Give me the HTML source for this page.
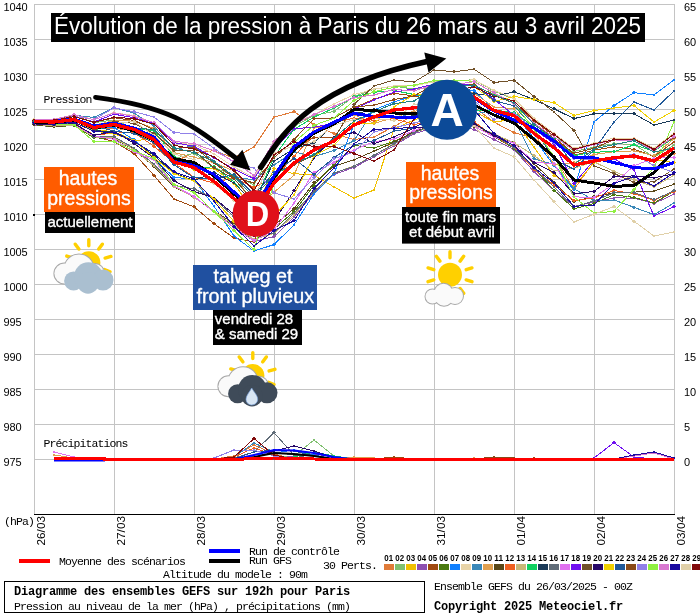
<!DOCTYPE html><html><head><meta charset="utf-8"><style>html,body{margin:0;padding:0;background:#fff;width:700px;height:614px;overflow:hidden}svg{display:block}</style></head><body>
<svg width="700" height="614" viewBox="0 0 700 614" style="will-change:transform">
<rect width="700" height="614" fill="#fff"/>
<path d="M34.5 4V514 M114.5 4V514 M194.5 4V514 M274.5 4V514 M354.5 4V514 M434.5 4V514 M514.5 4V514 M594.5 4V514 M674.5 4V514 M34 4.5H674 M34 39.5H674 M34 74.5H674 M34 109.5H674 M34 144.5H674 M34 179.5H674 M34 214.5H674 M34 249.5H674 M34 284.5H674 M34 319.5H674 M34 354.5H674 M34 389.5H674 M34 424.5H674 M34 459.5H674" stroke="#c4c4c4" stroke-width="1" fill="none"/>
<path d="M34 514.5H675" stroke="#000" stroke-width="1"/>
<g font-family="Liberation Sans, sans-serif" font-size="11" letter-spacing="-0.1" fill="#000"><text x="3.4" y="11">1040</text><text x="684" y="11">65</text><text x="3.4" y="46">1035</text><text x="684" y="46">60</text><text x="3.4" y="81">1030</text><text x="684" y="81">55</text><text x="3.4" y="116">1025</text><text x="684" y="116">50</text><text x="3.4" y="151">1020</text><text x="684" y="151">45</text><text x="3.4" y="186">1015</text><text x="684" y="186">40</text><text x="3.4" y="221">1010</text><text x="684" y="221">35</text><text x="3.4" y="256">1005</text><text x="684" y="256">30</text><text x="3.4" y="291">1000</text><text x="684" y="291">25</text><text x="3.4" y="326">995</text><text x="684" y="326">20</text><text x="3.4" y="361">990</text><text x="684" y="361">15</text><text x="3.4" y="396">985</text><text x="684" y="396">10</text><text x="3.4" y="431">980</text><text x="684" y="431">5</text><text x="3.4" y="466">975</text><text x="684" y="466">0</text></g>
<g font-family="Liberation Mono, monospace" font-size="11.5" letter-spacing="-0.9" fill="#000"><text x="43.4" y="103">Pression</text><text x="43.4" y="447">Précipitations</text><text x="4" y="525">(hPa)</text></g>
<g shape-rendering="crispEdges"><polyline points="34,122.9 54,123.3 74,120.8 94,129.0 114,128.1 134,130.9 154,143.4 174,162.1 194,152.4 214,150.8 234,158.0 254,146.9 274,117.0 294,111.8 314,124.5 334,133.7 354,139.5 374,136.9 394,126.6 414,115.0 434,110.2 454,112.0 474,107.1 494,122.1 514,132.8 534,137.9 554,155.9 574,189.4 594,161.6 614,157.6 634,157.7 654,159.4 674,153.3" stroke="#e07b39" stroke-width="1" fill="none"/><path d="M34 121.1l1.8 1.8l-1.8 1.8l-1.8 -1.8z M54 121.5l1.8 1.8l-1.8 1.8l-1.8 -1.8z M74 119.0l1.8 1.8l-1.8 1.8l-1.8 -1.8z M94 127.2l1.8 1.8l-1.8 1.8l-1.8 -1.8z M114 126.3l1.8 1.8l-1.8 1.8l-1.8 -1.8z M134 129.1l1.8 1.8l-1.8 1.8l-1.8 -1.8z M154 141.6l1.8 1.8l-1.8 1.8l-1.8 -1.8z M174 160.3l1.8 1.8l-1.8 1.8l-1.8 -1.8z M194 150.6l1.8 1.8l-1.8 1.8l-1.8 -1.8z M214 149.0l1.8 1.8l-1.8 1.8l-1.8 -1.8z M234 156.2l1.8 1.8l-1.8 1.8l-1.8 -1.8z M254 145.1l1.8 1.8l-1.8 1.8l-1.8 -1.8z M274 115.2l1.8 1.8l-1.8 1.8l-1.8 -1.8z M294 110.0l1.8 1.8l-1.8 1.8l-1.8 -1.8z M314 122.7l1.8 1.8l-1.8 1.8l-1.8 -1.8z M334 131.9l1.8 1.8l-1.8 1.8l-1.8 -1.8z M354 137.7l1.8 1.8l-1.8 1.8l-1.8 -1.8z M374 135.1l1.8 1.8l-1.8 1.8l-1.8 -1.8z M394 124.8l1.8 1.8l-1.8 1.8l-1.8 -1.8z M414 113.2l1.8 1.8l-1.8 1.8l-1.8 -1.8z M434 108.4l1.8 1.8l-1.8 1.8l-1.8 -1.8z M454 110.2l1.8 1.8l-1.8 1.8l-1.8 -1.8z M474 105.3l1.8 1.8l-1.8 1.8l-1.8 -1.8z M494 120.3l1.8 1.8l-1.8 1.8l-1.8 -1.8z M514 131.0l1.8 1.8l-1.8 1.8l-1.8 -1.8z M534 136.1l1.8 1.8l-1.8 1.8l-1.8 -1.8z M554 154.1l1.8 1.8l-1.8 1.8l-1.8 -1.8z M574 187.6l1.8 1.8l-1.8 1.8l-1.8 -1.8z M594 159.8l1.8 1.8l-1.8 1.8l-1.8 -1.8z M614 155.8l1.8 1.8l-1.8 1.8l-1.8 -1.8z M634 155.9l1.8 1.8l-1.8 1.8l-1.8 -1.8z M654 157.6l1.8 1.8l-1.8 1.8l-1.8 -1.8z M674 151.5l1.8 1.8l-1.8 1.8l-1.8 -1.8z" fill="#e07b39"/><polyline points="34,120.4 54,120.1 74,116.1 94,122.7 114,119.9 134,128.6 154,137.9 174,158.5 194,153.3 214,167.6 234,175.3 254,184.9 274,147.0 294,126.3 314,115.5 334,111.3 354,96.4 374,89.4 394,86.0 414,89.2 434,87.4 454,81.4 474,79.6 494,91.2 514,98.9 534,118.6 554,134.3 574,151.4 594,147.3 614,143.6 634,144.5 654,157.2 674,145.1" stroke="#80c070" stroke-width="1" fill="none"/><path d="M34 118.6l1.8 1.8l-1.8 1.8l-1.8 -1.8z M54 118.3l1.8 1.8l-1.8 1.8l-1.8 -1.8z M74 114.3l1.8 1.8l-1.8 1.8l-1.8 -1.8z M94 120.9l1.8 1.8l-1.8 1.8l-1.8 -1.8z M114 118.1l1.8 1.8l-1.8 1.8l-1.8 -1.8z M134 126.8l1.8 1.8l-1.8 1.8l-1.8 -1.8z M154 136.1l1.8 1.8l-1.8 1.8l-1.8 -1.8z M174 156.7l1.8 1.8l-1.8 1.8l-1.8 -1.8z M194 151.5l1.8 1.8l-1.8 1.8l-1.8 -1.8z M214 165.8l1.8 1.8l-1.8 1.8l-1.8 -1.8z M234 173.5l1.8 1.8l-1.8 1.8l-1.8 -1.8z M254 183.1l1.8 1.8l-1.8 1.8l-1.8 -1.8z M274 145.2l1.8 1.8l-1.8 1.8l-1.8 -1.8z M294 124.5l1.8 1.8l-1.8 1.8l-1.8 -1.8z M314 113.7l1.8 1.8l-1.8 1.8l-1.8 -1.8z M334 109.5l1.8 1.8l-1.8 1.8l-1.8 -1.8z M354 94.6l1.8 1.8l-1.8 1.8l-1.8 -1.8z M374 87.6l1.8 1.8l-1.8 1.8l-1.8 -1.8z M394 84.2l1.8 1.8l-1.8 1.8l-1.8 -1.8z M414 87.4l1.8 1.8l-1.8 1.8l-1.8 -1.8z M434 85.6l1.8 1.8l-1.8 1.8l-1.8 -1.8z M454 79.6l1.8 1.8l-1.8 1.8l-1.8 -1.8z M474 77.8l1.8 1.8l-1.8 1.8l-1.8 -1.8z M494 89.4l1.8 1.8l-1.8 1.8l-1.8 -1.8z M514 97.1l1.8 1.8l-1.8 1.8l-1.8 -1.8z M534 116.8l1.8 1.8l-1.8 1.8l-1.8 -1.8z M554 132.5l1.8 1.8l-1.8 1.8l-1.8 -1.8z M574 149.6l1.8 1.8l-1.8 1.8l-1.8 -1.8z M594 145.5l1.8 1.8l-1.8 1.8l-1.8 -1.8z M614 141.8l1.8 1.8l-1.8 1.8l-1.8 -1.8z M634 142.7l1.8 1.8l-1.8 1.8l-1.8 -1.8z M654 155.4l1.8 1.8l-1.8 1.8l-1.8 -1.8z M674 143.3l1.8 1.8l-1.8 1.8l-1.8 -1.8z" fill="#80c070"/><polyline points="34,121.6 54,122.7 74,119.4 94,129.9 114,131.6 134,140.6 154,138.8 174,157.5 194,169.7 214,168.4 234,183.5 254,211.7 274,168.4 294,173.7 314,175.0 334,187.0 354,198.0 374,190.0 394,129.0 414,120.0 434,113.1 454,104.1 474,111.3 494,122.1 514,119.2 534,147.1 554,175.6 574,186.1 594,162.8 614,157.8 634,155.4 654,159.6 674,162.6" stroke="#f0c000" stroke-width="1" fill="none"/><path d="M34 119.8l1.8 1.8l-1.8 1.8l-1.8 -1.8z M54 120.9l1.8 1.8l-1.8 1.8l-1.8 -1.8z M74 117.6l1.8 1.8l-1.8 1.8l-1.8 -1.8z M94 128.1l1.8 1.8l-1.8 1.8l-1.8 -1.8z M114 129.8l1.8 1.8l-1.8 1.8l-1.8 -1.8z M134 138.8l1.8 1.8l-1.8 1.8l-1.8 -1.8z M154 137.0l1.8 1.8l-1.8 1.8l-1.8 -1.8z M174 155.7l1.8 1.8l-1.8 1.8l-1.8 -1.8z M194 167.9l1.8 1.8l-1.8 1.8l-1.8 -1.8z M214 166.6l1.8 1.8l-1.8 1.8l-1.8 -1.8z M234 181.7l1.8 1.8l-1.8 1.8l-1.8 -1.8z M254 209.9l1.8 1.8l-1.8 1.8l-1.8 -1.8z M274 166.6l1.8 1.8l-1.8 1.8l-1.8 -1.8z M294 171.9l1.8 1.8l-1.8 1.8l-1.8 -1.8z M314 173.2l1.8 1.8l-1.8 1.8l-1.8 -1.8z M334 185.2l1.8 1.8l-1.8 1.8l-1.8 -1.8z M354 196.2l1.8 1.8l-1.8 1.8l-1.8 -1.8z M374 188.2l1.8 1.8l-1.8 1.8l-1.8 -1.8z M394 127.2l1.8 1.8l-1.8 1.8l-1.8 -1.8z M414 118.2l1.8 1.8l-1.8 1.8l-1.8 -1.8z M434 111.3l1.8 1.8l-1.8 1.8l-1.8 -1.8z M454 102.3l1.8 1.8l-1.8 1.8l-1.8 -1.8z M474 109.5l1.8 1.8l-1.8 1.8l-1.8 -1.8z M494 120.3l1.8 1.8l-1.8 1.8l-1.8 -1.8z M514 117.4l1.8 1.8l-1.8 1.8l-1.8 -1.8z M534 145.3l1.8 1.8l-1.8 1.8l-1.8 -1.8z M554 173.8l1.8 1.8l-1.8 1.8l-1.8 -1.8z M574 184.3l1.8 1.8l-1.8 1.8l-1.8 -1.8z M594 161.0l1.8 1.8l-1.8 1.8l-1.8 -1.8z M614 156.0l1.8 1.8l-1.8 1.8l-1.8 -1.8z M634 153.6l1.8 1.8l-1.8 1.8l-1.8 -1.8z M654 157.8l1.8 1.8l-1.8 1.8l-1.8 -1.8z M674 160.8l1.8 1.8l-1.8 1.8l-1.8 -1.8z" fill="#f0c000"/><polyline points="34,125.0 54,126.9 74,125.1 94,136.1 114,137.2 134,148.9 154,166.2 174,186.4 194,197.2 214,211.2 234,227.4 254,241.3 274,236.7 294,216.9 314,192.9 334,174.4 354,167.4 374,156.8 394,145.8 414,133.7 434,127.7 454,123.5 474,129.6 494,139.4 514,149.4 534,171.7 554,190.2 574,206.4 594,202.2 614,197.9 634,198.1 654,203.5 674,194.2" stroke="#8e50b0" stroke-width="1" fill="none"/><path d="M34 123.2l1.8 1.8l-1.8 1.8l-1.8 -1.8z M54 125.1l1.8 1.8l-1.8 1.8l-1.8 -1.8z M74 123.3l1.8 1.8l-1.8 1.8l-1.8 -1.8z M94 134.3l1.8 1.8l-1.8 1.8l-1.8 -1.8z M114 135.4l1.8 1.8l-1.8 1.8l-1.8 -1.8z M134 147.1l1.8 1.8l-1.8 1.8l-1.8 -1.8z M154 164.4l1.8 1.8l-1.8 1.8l-1.8 -1.8z M174 184.6l1.8 1.8l-1.8 1.8l-1.8 -1.8z M194 195.4l1.8 1.8l-1.8 1.8l-1.8 -1.8z M214 209.4l1.8 1.8l-1.8 1.8l-1.8 -1.8z M234 225.6l1.8 1.8l-1.8 1.8l-1.8 -1.8z M254 239.5l1.8 1.8l-1.8 1.8l-1.8 -1.8z M274 234.9l1.8 1.8l-1.8 1.8l-1.8 -1.8z M294 215.1l1.8 1.8l-1.8 1.8l-1.8 -1.8z M314 191.1l1.8 1.8l-1.8 1.8l-1.8 -1.8z M334 172.6l1.8 1.8l-1.8 1.8l-1.8 -1.8z M354 165.6l1.8 1.8l-1.8 1.8l-1.8 -1.8z M374 155.0l1.8 1.8l-1.8 1.8l-1.8 -1.8z M394 144.0l1.8 1.8l-1.8 1.8l-1.8 -1.8z M414 131.9l1.8 1.8l-1.8 1.8l-1.8 -1.8z M434 125.9l1.8 1.8l-1.8 1.8l-1.8 -1.8z M454 121.7l1.8 1.8l-1.8 1.8l-1.8 -1.8z M474 127.8l1.8 1.8l-1.8 1.8l-1.8 -1.8z M494 137.6l1.8 1.8l-1.8 1.8l-1.8 -1.8z M514 147.6l1.8 1.8l-1.8 1.8l-1.8 -1.8z M534 169.9l1.8 1.8l-1.8 1.8l-1.8 -1.8z M554 188.4l1.8 1.8l-1.8 1.8l-1.8 -1.8z M574 204.6l1.8 1.8l-1.8 1.8l-1.8 -1.8z M594 200.4l1.8 1.8l-1.8 1.8l-1.8 -1.8z M614 196.1l1.8 1.8l-1.8 1.8l-1.8 -1.8z M634 196.3l1.8 1.8l-1.8 1.8l-1.8 -1.8z M654 201.7l1.8 1.8l-1.8 1.8l-1.8 -1.8z M674 192.4l1.8 1.8l-1.8 1.8l-1.8 -1.8z" fill="#8e50b0"/><polyline points="34,121.5 54,122.5 74,122.7 94,136.0 114,141.7 134,153.4 154,175.5 174,199.0 194,206.8 214,223.7 234,238.0 254,242.0 274,177.4 294,149.3 314,137.3 334,137.9 354,107.7 374,99.3 394,93.3 414,96.0 434,99.7 454,83.3 474,86.1 494,94.1 514,103.6 534,120.5 554,136.1 574,155.2 594,150.2 614,146.8 634,149.4 654,156.3 674,141.9" stroke="#a04a10" stroke-width="1" fill="none"/><path d="M34 119.7l1.8 1.8l-1.8 1.8l-1.8 -1.8z M54 120.7l1.8 1.8l-1.8 1.8l-1.8 -1.8z M74 120.9l1.8 1.8l-1.8 1.8l-1.8 -1.8z M94 134.2l1.8 1.8l-1.8 1.8l-1.8 -1.8z M114 139.9l1.8 1.8l-1.8 1.8l-1.8 -1.8z M134 151.6l1.8 1.8l-1.8 1.8l-1.8 -1.8z M154 173.7l1.8 1.8l-1.8 1.8l-1.8 -1.8z M174 197.2l1.8 1.8l-1.8 1.8l-1.8 -1.8z M194 205.0l1.8 1.8l-1.8 1.8l-1.8 -1.8z M214 221.9l1.8 1.8l-1.8 1.8l-1.8 -1.8z M234 236.2l1.8 1.8l-1.8 1.8l-1.8 -1.8z M254 240.2l1.8 1.8l-1.8 1.8l-1.8 -1.8z M274 175.6l1.8 1.8l-1.8 1.8l-1.8 -1.8z M294 147.5l1.8 1.8l-1.8 1.8l-1.8 -1.8z M314 135.5l1.8 1.8l-1.8 1.8l-1.8 -1.8z M334 136.1l1.8 1.8l-1.8 1.8l-1.8 -1.8z M354 105.9l1.8 1.8l-1.8 1.8l-1.8 -1.8z M374 97.5l1.8 1.8l-1.8 1.8l-1.8 -1.8z M394 91.5l1.8 1.8l-1.8 1.8l-1.8 -1.8z M414 94.2l1.8 1.8l-1.8 1.8l-1.8 -1.8z M434 97.9l1.8 1.8l-1.8 1.8l-1.8 -1.8z M454 81.5l1.8 1.8l-1.8 1.8l-1.8 -1.8z M474 84.3l1.8 1.8l-1.8 1.8l-1.8 -1.8z M494 92.3l1.8 1.8l-1.8 1.8l-1.8 -1.8z M514 101.8l1.8 1.8l-1.8 1.8l-1.8 -1.8z M534 118.7l1.8 1.8l-1.8 1.8l-1.8 -1.8z M554 134.3l1.8 1.8l-1.8 1.8l-1.8 -1.8z M574 153.4l1.8 1.8l-1.8 1.8l-1.8 -1.8z M594 148.4l1.8 1.8l-1.8 1.8l-1.8 -1.8z M614 145.0l1.8 1.8l-1.8 1.8l-1.8 -1.8z M634 147.6l1.8 1.8l-1.8 1.8l-1.8 -1.8z M654 154.5l1.8 1.8l-1.8 1.8l-1.8 -1.8z M674 140.1l1.8 1.8l-1.8 1.8l-1.8 -1.8z" fill="#a04a10"/><polyline points="34,124.7 54,126.8 74,125.5 94,137.8 114,138.6 134,149.7 154,166.4 174,186.3 194,197.3 214,211.2 234,227.3 254,240.1 274,228.9 294,211.6 314,185.3 334,164.3 354,145.3 374,148.1 394,141.3 414,132.6 434,125.8 454,121.4 474,123.5 494,136.5 514,148.3 534,168.5 554,190.3 574,208.8 594,203.4 614,194.7 634,197.5 654,203.0 674,191.2" stroke="#4a7a10" stroke-width="1" fill="none"/><path d="M34 122.9l1.8 1.8l-1.8 1.8l-1.8 -1.8z M54 125.0l1.8 1.8l-1.8 1.8l-1.8 -1.8z M74 123.7l1.8 1.8l-1.8 1.8l-1.8 -1.8z M94 136.0l1.8 1.8l-1.8 1.8l-1.8 -1.8z M114 136.8l1.8 1.8l-1.8 1.8l-1.8 -1.8z M134 147.9l1.8 1.8l-1.8 1.8l-1.8 -1.8z M154 164.6l1.8 1.8l-1.8 1.8l-1.8 -1.8z M174 184.5l1.8 1.8l-1.8 1.8l-1.8 -1.8z M194 195.5l1.8 1.8l-1.8 1.8l-1.8 -1.8z M214 209.4l1.8 1.8l-1.8 1.8l-1.8 -1.8z M234 225.5l1.8 1.8l-1.8 1.8l-1.8 -1.8z M254 238.3l1.8 1.8l-1.8 1.8l-1.8 -1.8z M274 227.1l1.8 1.8l-1.8 1.8l-1.8 -1.8z M294 209.8l1.8 1.8l-1.8 1.8l-1.8 -1.8z M314 183.5l1.8 1.8l-1.8 1.8l-1.8 -1.8z M334 162.5l1.8 1.8l-1.8 1.8l-1.8 -1.8z M354 143.5l1.8 1.8l-1.8 1.8l-1.8 -1.8z M374 146.3l1.8 1.8l-1.8 1.8l-1.8 -1.8z M394 139.5l1.8 1.8l-1.8 1.8l-1.8 -1.8z M414 130.8l1.8 1.8l-1.8 1.8l-1.8 -1.8z M434 124.0l1.8 1.8l-1.8 1.8l-1.8 -1.8z M454 119.6l1.8 1.8l-1.8 1.8l-1.8 -1.8z M474 121.7l1.8 1.8l-1.8 1.8l-1.8 -1.8z M494 134.7l1.8 1.8l-1.8 1.8l-1.8 -1.8z M514 146.5l1.8 1.8l-1.8 1.8l-1.8 -1.8z M534 166.7l1.8 1.8l-1.8 1.8l-1.8 -1.8z M554 188.5l1.8 1.8l-1.8 1.8l-1.8 -1.8z M574 207.0l1.8 1.8l-1.8 1.8l-1.8 -1.8z M594 201.6l1.8 1.8l-1.8 1.8l-1.8 -1.8z M614 192.9l1.8 1.8l-1.8 1.8l-1.8 -1.8z M634 195.7l1.8 1.8l-1.8 1.8l-1.8 -1.8z M654 201.2l1.8 1.8l-1.8 1.8l-1.8 -1.8z M674 189.4l1.8 1.8l-1.8 1.8l-1.8 -1.8z" fill="#4a7a10"/><polyline points="34,120.9 54,121.3 74,119.6 94,126.4 114,127.5 134,139.7 154,158.7 174,177.3 194,179.4 214,206.2 234,236.0 254,251.0 274,244.6 294,224.9 314,194.0 334,173.3 354,124.7 374,110.0 394,101.9 414,95.8 434,91.4 454,92.2 474,90.4 494,110.1 514,113.4 534,138.4 554,165.6 574,190.0 594,122.0 614,105.6 634,92.6 654,95.0 674,80.0" stroke="#1080ff" stroke-width="1" fill="none"/><path d="M34 119.1l1.8 1.8l-1.8 1.8l-1.8 -1.8z M54 119.5l1.8 1.8l-1.8 1.8l-1.8 -1.8z M74 117.8l1.8 1.8l-1.8 1.8l-1.8 -1.8z M94 124.6l1.8 1.8l-1.8 1.8l-1.8 -1.8z M114 125.7l1.8 1.8l-1.8 1.8l-1.8 -1.8z M134 137.9l1.8 1.8l-1.8 1.8l-1.8 -1.8z M154 156.9l1.8 1.8l-1.8 1.8l-1.8 -1.8z M174 175.5l1.8 1.8l-1.8 1.8l-1.8 -1.8z M194 177.6l1.8 1.8l-1.8 1.8l-1.8 -1.8z M214 204.4l1.8 1.8l-1.8 1.8l-1.8 -1.8z M234 234.2l1.8 1.8l-1.8 1.8l-1.8 -1.8z M254 249.2l1.8 1.8l-1.8 1.8l-1.8 -1.8z M274 242.8l1.8 1.8l-1.8 1.8l-1.8 -1.8z M294 223.1l1.8 1.8l-1.8 1.8l-1.8 -1.8z M314 192.2l1.8 1.8l-1.8 1.8l-1.8 -1.8z M334 171.5l1.8 1.8l-1.8 1.8l-1.8 -1.8z M354 122.9l1.8 1.8l-1.8 1.8l-1.8 -1.8z M374 108.2l1.8 1.8l-1.8 1.8l-1.8 -1.8z M394 100.1l1.8 1.8l-1.8 1.8l-1.8 -1.8z M414 94.0l1.8 1.8l-1.8 1.8l-1.8 -1.8z M434 89.6l1.8 1.8l-1.8 1.8l-1.8 -1.8z M454 90.4l1.8 1.8l-1.8 1.8l-1.8 -1.8z M474 88.6l1.8 1.8l-1.8 1.8l-1.8 -1.8z M494 108.3l1.8 1.8l-1.8 1.8l-1.8 -1.8z M514 111.6l1.8 1.8l-1.8 1.8l-1.8 -1.8z M534 136.6l1.8 1.8l-1.8 1.8l-1.8 -1.8z M554 163.8l1.8 1.8l-1.8 1.8l-1.8 -1.8z M574 188.2l1.8 1.8l-1.8 1.8l-1.8 -1.8z M594 120.2l1.8 1.8l-1.8 1.8l-1.8 -1.8z M614 103.8l1.8 1.8l-1.8 1.8l-1.8 -1.8z M634 90.8l1.8 1.8l-1.8 1.8l-1.8 -1.8z M654 93.2l1.8 1.8l-1.8 1.8l-1.8 -1.8z M674 78.2l1.8 1.8l-1.8 1.8l-1.8 -1.8z" fill="#1080ff"/><polyline points="34,119.7 54,119.3 74,114.5 94,119.7 114,112.8 134,115.6 154,122.7 174,142.6 194,144.7 214,153.9 234,167.1 254,177.6 274,142.5 294,123.6 314,114.7 334,104.0 354,94.6 374,89.2 394,85.9 414,85.7 434,81.8 454,81.0 474,79.8 494,90.4 514,98.3 534,118.5 554,133.3 574,148.3 594,143.2 614,138.1 634,138.1 654,148.1 674,133.1" stroke="#e8d4a8" stroke-width="1" fill="none"/><path d="M34 117.9l1.8 1.8l-1.8 1.8l-1.8 -1.8z M54 117.5l1.8 1.8l-1.8 1.8l-1.8 -1.8z M74 112.7l1.8 1.8l-1.8 1.8l-1.8 -1.8z M94 117.9l1.8 1.8l-1.8 1.8l-1.8 -1.8z M114 111.0l1.8 1.8l-1.8 1.8l-1.8 -1.8z M134 113.8l1.8 1.8l-1.8 1.8l-1.8 -1.8z M154 120.9l1.8 1.8l-1.8 1.8l-1.8 -1.8z M174 140.8l1.8 1.8l-1.8 1.8l-1.8 -1.8z M194 142.9l1.8 1.8l-1.8 1.8l-1.8 -1.8z M214 152.1l1.8 1.8l-1.8 1.8l-1.8 -1.8z M234 165.3l1.8 1.8l-1.8 1.8l-1.8 -1.8z M254 175.8l1.8 1.8l-1.8 1.8l-1.8 -1.8z M274 140.7l1.8 1.8l-1.8 1.8l-1.8 -1.8z M294 121.8l1.8 1.8l-1.8 1.8l-1.8 -1.8z M314 112.9l1.8 1.8l-1.8 1.8l-1.8 -1.8z M334 102.2l1.8 1.8l-1.8 1.8l-1.8 -1.8z M354 92.8l1.8 1.8l-1.8 1.8l-1.8 -1.8z M374 87.4l1.8 1.8l-1.8 1.8l-1.8 -1.8z M394 84.1l1.8 1.8l-1.8 1.8l-1.8 -1.8z M414 83.9l1.8 1.8l-1.8 1.8l-1.8 -1.8z M434 80.0l1.8 1.8l-1.8 1.8l-1.8 -1.8z M454 79.2l1.8 1.8l-1.8 1.8l-1.8 -1.8z M474 78.0l1.8 1.8l-1.8 1.8l-1.8 -1.8z M494 88.6l1.8 1.8l-1.8 1.8l-1.8 -1.8z M514 96.5l1.8 1.8l-1.8 1.8l-1.8 -1.8z M534 116.7l1.8 1.8l-1.8 1.8l-1.8 -1.8z M554 131.5l1.8 1.8l-1.8 1.8l-1.8 -1.8z M574 146.5l1.8 1.8l-1.8 1.8l-1.8 -1.8z M594 141.4l1.8 1.8l-1.8 1.8l-1.8 -1.8z M614 136.3l1.8 1.8l-1.8 1.8l-1.8 -1.8z M634 136.3l1.8 1.8l-1.8 1.8l-1.8 -1.8z M654 146.3l1.8 1.8l-1.8 1.8l-1.8 -1.8z M674 131.3l1.8 1.8l-1.8 1.8l-1.8 -1.8z" fill="#e8d4a8"/><polyline points="34,121.0 54,120.4 74,115.2 94,117.4 114,107.8 134,113.0 154,126.0 174,149.5 194,145.6 214,161.2 234,176.8 254,180.0 274,164.9 294,151.8 314,156.6 334,150.5 354,140.8 374,109.4 394,112.2 414,118.5 434,112.0 454,101.1 474,114.3 494,110.0 514,119.0 534,158.8 554,164.6 574,188.7 594,200.5 614,200.0 634,207.3 654,214.7 674,203.0" stroke="#3a88b8" stroke-width="1" fill="none"/><path d="M34 119.2l1.8 1.8l-1.8 1.8l-1.8 -1.8z M54 118.6l1.8 1.8l-1.8 1.8l-1.8 -1.8z M74 113.4l1.8 1.8l-1.8 1.8l-1.8 -1.8z M94 115.6l1.8 1.8l-1.8 1.8l-1.8 -1.8z M114 106.0l1.8 1.8l-1.8 1.8l-1.8 -1.8z M134 111.2l1.8 1.8l-1.8 1.8l-1.8 -1.8z M154 124.2l1.8 1.8l-1.8 1.8l-1.8 -1.8z M174 147.7l1.8 1.8l-1.8 1.8l-1.8 -1.8z M194 143.8l1.8 1.8l-1.8 1.8l-1.8 -1.8z M214 159.4l1.8 1.8l-1.8 1.8l-1.8 -1.8z M234 175.0l1.8 1.8l-1.8 1.8l-1.8 -1.8z M254 178.2l1.8 1.8l-1.8 1.8l-1.8 -1.8z M274 163.1l1.8 1.8l-1.8 1.8l-1.8 -1.8z M294 150.0l1.8 1.8l-1.8 1.8l-1.8 -1.8z M314 154.8l1.8 1.8l-1.8 1.8l-1.8 -1.8z M334 148.7l1.8 1.8l-1.8 1.8l-1.8 -1.8z M354 139.0l1.8 1.8l-1.8 1.8l-1.8 -1.8z M374 107.6l1.8 1.8l-1.8 1.8l-1.8 -1.8z M394 110.4l1.8 1.8l-1.8 1.8l-1.8 -1.8z M414 116.7l1.8 1.8l-1.8 1.8l-1.8 -1.8z M434 110.2l1.8 1.8l-1.8 1.8l-1.8 -1.8z M454 99.3l1.8 1.8l-1.8 1.8l-1.8 -1.8z M474 112.5l1.8 1.8l-1.8 1.8l-1.8 -1.8z M494 108.2l1.8 1.8l-1.8 1.8l-1.8 -1.8z M514 117.2l1.8 1.8l-1.8 1.8l-1.8 -1.8z M534 157.0l1.8 1.8l-1.8 1.8l-1.8 -1.8z M554 162.8l1.8 1.8l-1.8 1.8l-1.8 -1.8z M574 186.9l1.8 1.8l-1.8 1.8l-1.8 -1.8z M594 198.7l1.8 1.8l-1.8 1.8l-1.8 -1.8z M614 198.2l1.8 1.8l-1.8 1.8l-1.8 -1.8z M634 205.5l1.8 1.8l-1.8 1.8l-1.8 -1.8z M654 212.9l1.8 1.8l-1.8 1.8l-1.8 -1.8z M674 201.2l1.8 1.8l-1.8 1.8l-1.8 -1.8z" fill="#3a88b8"/><polyline points="34,120.8 54,120.9 74,118.1 94,125.3 114,120.6 134,121.1 154,128.4 174,152.6 194,157.1 214,162.7 234,170.9 254,209.9 274,192.2 294,175.2 314,128.2 334,124.4 354,114.7 374,123.3 394,117.8 414,111.1 434,110.2 454,90.0 474,93.2 494,107.1 514,108.6 534,132.7 554,164.6 574,162.7 594,154.5 614,151.7 634,150.9 654,155.7 674,138.7" stroke="#e0a050" stroke-width="1" fill="none"/><path d="M34 119.0l1.8 1.8l-1.8 1.8l-1.8 -1.8z M54 119.1l1.8 1.8l-1.8 1.8l-1.8 -1.8z M74 116.3l1.8 1.8l-1.8 1.8l-1.8 -1.8z M94 123.5l1.8 1.8l-1.8 1.8l-1.8 -1.8z M114 118.8l1.8 1.8l-1.8 1.8l-1.8 -1.8z M134 119.3l1.8 1.8l-1.8 1.8l-1.8 -1.8z M154 126.6l1.8 1.8l-1.8 1.8l-1.8 -1.8z M174 150.8l1.8 1.8l-1.8 1.8l-1.8 -1.8z M194 155.3l1.8 1.8l-1.8 1.8l-1.8 -1.8z M214 160.9l1.8 1.8l-1.8 1.8l-1.8 -1.8z M234 169.1l1.8 1.8l-1.8 1.8l-1.8 -1.8z M254 208.1l1.8 1.8l-1.8 1.8l-1.8 -1.8z M274 190.4l1.8 1.8l-1.8 1.8l-1.8 -1.8z M294 173.4l1.8 1.8l-1.8 1.8l-1.8 -1.8z M314 126.4l1.8 1.8l-1.8 1.8l-1.8 -1.8z M334 122.6l1.8 1.8l-1.8 1.8l-1.8 -1.8z M354 112.9l1.8 1.8l-1.8 1.8l-1.8 -1.8z M374 121.5l1.8 1.8l-1.8 1.8l-1.8 -1.8z M394 116.0l1.8 1.8l-1.8 1.8l-1.8 -1.8z M414 109.3l1.8 1.8l-1.8 1.8l-1.8 -1.8z M434 108.4l1.8 1.8l-1.8 1.8l-1.8 -1.8z M454 88.2l1.8 1.8l-1.8 1.8l-1.8 -1.8z M474 91.4l1.8 1.8l-1.8 1.8l-1.8 -1.8z M494 105.3l1.8 1.8l-1.8 1.8l-1.8 -1.8z M514 106.8l1.8 1.8l-1.8 1.8l-1.8 -1.8z M534 130.9l1.8 1.8l-1.8 1.8l-1.8 -1.8z M554 162.8l1.8 1.8l-1.8 1.8l-1.8 -1.8z M574 160.9l1.8 1.8l-1.8 1.8l-1.8 -1.8z M594 152.7l1.8 1.8l-1.8 1.8l-1.8 -1.8z M614 149.9l1.8 1.8l-1.8 1.8l-1.8 -1.8z M634 149.1l1.8 1.8l-1.8 1.8l-1.8 -1.8z M654 153.9l1.8 1.8l-1.8 1.8l-1.8 -1.8z M674 136.9l1.8 1.8l-1.8 1.8l-1.8 -1.8z" fill="#e0a050"/><polyline points="34,124.4 54,126.7 74,125.2 94,136.3 114,138.2 134,149.3 154,166.6 174,186.7 194,197.0 214,210.9 234,223.6 254,235.5 274,225.6 294,208.7 314,182.8 334,166.1 354,159.9 374,151.1 394,142.3 414,131.5 434,125.3 454,121.9 474,126.9 494,135.3 514,142.4 534,163.8 554,182.4 574,201.4 594,196.7 614,192.9 634,192.1 654,191.0 674,184.2" stroke="#5a4818" stroke-width="1" fill="none"/><path d="M34 122.6l1.8 1.8l-1.8 1.8l-1.8 -1.8z M54 124.9l1.8 1.8l-1.8 1.8l-1.8 -1.8z M74 123.4l1.8 1.8l-1.8 1.8l-1.8 -1.8z M94 134.5l1.8 1.8l-1.8 1.8l-1.8 -1.8z M114 136.4l1.8 1.8l-1.8 1.8l-1.8 -1.8z M134 147.5l1.8 1.8l-1.8 1.8l-1.8 -1.8z M154 164.8l1.8 1.8l-1.8 1.8l-1.8 -1.8z M174 184.9l1.8 1.8l-1.8 1.8l-1.8 -1.8z M194 195.2l1.8 1.8l-1.8 1.8l-1.8 -1.8z M214 209.1l1.8 1.8l-1.8 1.8l-1.8 -1.8z M234 221.8l1.8 1.8l-1.8 1.8l-1.8 -1.8z M254 233.7l1.8 1.8l-1.8 1.8l-1.8 -1.8z M274 223.8l1.8 1.8l-1.8 1.8l-1.8 -1.8z M294 206.9l1.8 1.8l-1.8 1.8l-1.8 -1.8z M314 181.0l1.8 1.8l-1.8 1.8l-1.8 -1.8z M334 164.3l1.8 1.8l-1.8 1.8l-1.8 -1.8z M354 158.1l1.8 1.8l-1.8 1.8l-1.8 -1.8z M374 149.3l1.8 1.8l-1.8 1.8l-1.8 -1.8z M394 140.5l1.8 1.8l-1.8 1.8l-1.8 -1.8z M414 129.7l1.8 1.8l-1.8 1.8l-1.8 -1.8z M434 123.5l1.8 1.8l-1.8 1.8l-1.8 -1.8z M454 120.1l1.8 1.8l-1.8 1.8l-1.8 -1.8z M474 125.1l1.8 1.8l-1.8 1.8l-1.8 -1.8z M494 133.5l1.8 1.8l-1.8 1.8l-1.8 -1.8z M514 140.6l1.8 1.8l-1.8 1.8l-1.8 -1.8z M534 162.0l1.8 1.8l-1.8 1.8l-1.8 -1.8z M554 180.6l1.8 1.8l-1.8 1.8l-1.8 -1.8z M574 199.6l1.8 1.8l-1.8 1.8l-1.8 -1.8z M594 194.9l1.8 1.8l-1.8 1.8l-1.8 -1.8z M614 191.1l1.8 1.8l-1.8 1.8l-1.8 -1.8z M634 190.3l1.8 1.8l-1.8 1.8l-1.8 -1.8z M654 189.2l1.8 1.8l-1.8 1.8l-1.8 -1.8z M674 182.4l1.8 1.8l-1.8 1.8l-1.8 -1.8z" fill="#5a4818"/><polyline points="34,123.2 54,125.0 74,123.5 94,135.0 114,133.2 134,132.5 154,146.3 174,162.9 194,177.3 214,183.3 234,177.4 254,187.3 274,178.3 294,156.6 314,133.9 334,122.7 354,118.1 374,120.4 394,118.8 414,124.3 434,122.1 454,116.4 474,121.7 494,136.5 514,147.0 534,169.5 554,184.9 574,200.7 594,197.9 614,190.6 634,193.6 654,200.3 674,191.4" stroke="#f06020" stroke-width="1" fill="none"/><path d="M34 121.4l1.8 1.8l-1.8 1.8l-1.8 -1.8z M54 123.2l1.8 1.8l-1.8 1.8l-1.8 -1.8z M74 121.7l1.8 1.8l-1.8 1.8l-1.8 -1.8z M94 133.2l1.8 1.8l-1.8 1.8l-1.8 -1.8z M114 131.4l1.8 1.8l-1.8 1.8l-1.8 -1.8z M134 130.7l1.8 1.8l-1.8 1.8l-1.8 -1.8z M154 144.5l1.8 1.8l-1.8 1.8l-1.8 -1.8z M174 161.1l1.8 1.8l-1.8 1.8l-1.8 -1.8z M194 175.5l1.8 1.8l-1.8 1.8l-1.8 -1.8z M214 181.5l1.8 1.8l-1.8 1.8l-1.8 -1.8z M234 175.6l1.8 1.8l-1.8 1.8l-1.8 -1.8z M254 185.5l1.8 1.8l-1.8 1.8l-1.8 -1.8z M274 176.5l1.8 1.8l-1.8 1.8l-1.8 -1.8z M294 154.8l1.8 1.8l-1.8 1.8l-1.8 -1.8z M314 132.1l1.8 1.8l-1.8 1.8l-1.8 -1.8z M334 120.9l1.8 1.8l-1.8 1.8l-1.8 -1.8z M354 116.3l1.8 1.8l-1.8 1.8l-1.8 -1.8z M374 118.6l1.8 1.8l-1.8 1.8l-1.8 -1.8z M394 117.0l1.8 1.8l-1.8 1.8l-1.8 -1.8z M414 122.5l1.8 1.8l-1.8 1.8l-1.8 -1.8z M434 120.3l1.8 1.8l-1.8 1.8l-1.8 -1.8z M454 114.6l1.8 1.8l-1.8 1.8l-1.8 -1.8z M474 119.9l1.8 1.8l-1.8 1.8l-1.8 -1.8z M494 134.7l1.8 1.8l-1.8 1.8l-1.8 -1.8z M514 145.2l1.8 1.8l-1.8 1.8l-1.8 -1.8z M534 167.7l1.8 1.8l-1.8 1.8l-1.8 -1.8z M554 183.1l1.8 1.8l-1.8 1.8l-1.8 -1.8z M574 198.9l1.8 1.8l-1.8 1.8l-1.8 -1.8z M594 196.1l1.8 1.8l-1.8 1.8l-1.8 -1.8z M614 188.8l1.8 1.8l-1.8 1.8l-1.8 -1.8z M634 191.8l1.8 1.8l-1.8 1.8l-1.8 -1.8z M654 198.5l1.8 1.8l-1.8 1.8l-1.8 -1.8z M674 189.6l1.8 1.8l-1.8 1.8l-1.8 -1.8z" fill="#f06020"/><polyline points="34,124.1 54,126.1 74,125.1 94,136.9 114,137.8 134,149.6 154,166.0 174,186.3 194,197.3 214,211.0 234,225.6 254,239.5 274,233.4 294,215.0 314,192.0 334,173.0 354,166.1 374,155.4 394,144.4 414,132.6 434,126.3 454,122.4 474,125.4 494,133.9 514,142.8 534,155.4 554,170.9 574,168.2 594,161.9 614,171.4 634,179.8 654,186.8 674,175.2" stroke="#c8b878" stroke-width="1" fill="none"/><path d="M34 122.3l1.8 1.8l-1.8 1.8l-1.8 -1.8z M54 124.3l1.8 1.8l-1.8 1.8l-1.8 -1.8z M74 123.3l1.8 1.8l-1.8 1.8l-1.8 -1.8z M94 135.1l1.8 1.8l-1.8 1.8l-1.8 -1.8z M114 136.0l1.8 1.8l-1.8 1.8l-1.8 -1.8z M134 147.8l1.8 1.8l-1.8 1.8l-1.8 -1.8z M154 164.2l1.8 1.8l-1.8 1.8l-1.8 -1.8z M174 184.5l1.8 1.8l-1.8 1.8l-1.8 -1.8z M194 195.5l1.8 1.8l-1.8 1.8l-1.8 -1.8z M214 209.2l1.8 1.8l-1.8 1.8l-1.8 -1.8z M234 223.8l1.8 1.8l-1.8 1.8l-1.8 -1.8z M254 237.7l1.8 1.8l-1.8 1.8l-1.8 -1.8z M274 231.6l1.8 1.8l-1.8 1.8l-1.8 -1.8z M294 213.2l1.8 1.8l-1.8 1.8l-1.8 -1.8z M314 190.2l1.8 1.8l-1.8 1.8l-1.8 -1.8z M334 171.2l1.8 1.8l-1.8 1.8l-1.8 -1.8z M354 164.3l1.8 1.8l-1.8 1.8l-1.8 -1.8z M374 153.6l1.8 1.8l-1.8 1.8l-1.8 -1.8z M394 142.6l1.8 1.8l-1.8 1.8l-1.8 -1.8z M414 130.8l1.8 1.8l-1.8 1.8l-1.8 -1.8z M434 124.5l1.8 1.8l-1.8 1.8l-1.8 -1.8z M454 120.6l1.8 1.8l-1.8 1.8l-1.8 -1.8z M474 123.6l1.8 1.8l-1.8 1.8l-1.8 -1.8z M494 132.1l1.8 1.8l-1.8 1.8l-1.8 -1.8z M514 141.0l1.8 1.8l-1.8 1.8l-1.8 -1.8z M534 153.6l1.8 1.8l-1.8 1.8l-1.8 -1.8z M554 169.1l1.8 1.8l-1.8 1.8l-1.8 -1.8z M574 166.4l1.8 1.8l-1.8 1.8l-1.8 -1.8z M594 160.1l1.8 1.8l-1.8 1.8l-1.8 -1.8z M614 169.6l1.8 1.8l-1.8 1.8l-1.8 -1.8z M634 178.0l1.8 1.8l-1.8 1.8l-1.8 -1.8z M654 185.0l1.8 1.8l-1.8 1.8l-1.8 -1.8z M674 173.4l1.8 1.8l-1.8 1.8l-1.8 -1.8z" fill="#c8b878"/><polyline points="34,121.4 54,121.8 74,119.6 94,130.0 114,124.8 134,128.8 154,130.6 174,156.4 194,168.8 214,166.6 234,182.0 254,204.4 274,156.7 294,129.4 314,117.1 334,108.1 354,96.8 374,92.3 394,90.5 414,94.5 434,97.2 454,102.6 474,110.1 494,110.0 514,112.5 534,126.9 554,138.8 574,155.6 594,152.2 614,151.6 634,144.8 654,151.2 674,137.6" stroke="#10d060" stroke-width="1" fill="none"/><path d="M34 119.6l1.8 1.8l-1.8 1.8l-1.8 -1.8z M54 120.0l1.8 1.8l-1.8 1.8l-1.8 -1.8z M74 117.8l1.8 1.8l-1.8 1.8l-1.8 -1.8z M94 128.2l1.8 1.8l-1.8 1.8l-1.8 -1.8z M114 123.0l1.8 1.8l-1.8 1.8l-1.8 -1.8z M134 127.0l1.8 1.8l-1.8 1.8l-1.8 -1.8z M154 128.8l1.8 1.8l-1.8 1.8l-1.8 -1.8z M174 154.6l1.8 1.8l-1.8 1.8l-1.8 -1.8z M194 167.0l1.8 1.8l-1.8 1.8l-1.8 -1.8z M214 164.8l1.8 1.8l-1.8 1.8l-1.8 -1.8z M234 180.2l1.8 1.8l-1.8 1.8l-1.8 -1.8z M254 202.6l1.8 1.8l-1.8 1.8l-1.8 -1.8z M274 154.9l1.8 1.8l-1.8 1.8l-1.8 -1.8z M294 127.6l1.8 1.8l-1.8 1.8l-1.8 -1.8z M314 115.3l1.8 1.8l-1.8 1.8l-1.8 -1.8z M334 106.3l1.8 1.8l-1.8 1.8l-1.8 -1.8z M354 95.0l1.8 1.8l-1.8 1.8l-1.8 -1.8z M374 90.5l1.8 1.8l-1.8 1.8l-1.8 -1.8z M394 88.7l1.8 1.8l-1.8 1.8l-1.8 -1.8z M414 92.7l1.8 1.8l-1.8 1.8l-1.8 -1.8z M434 95.4l1.8 1.8l-1.8 1.8l-1.8 -1.8z M454 100.8l1.8 1.8l-1.8 1.8l-1.8 -1.8z M474 108.3l1.8 1.8l-1.8 1.8l-1.8 -1.8z M494 108.2l1.8 1.8l-1.8 1.8l-1.8 -1.8z M514 110.7l1.8 1.8l-1.8 1.8l-1.8 -1.8z M534 125.1l1.8 1.8l-1.8 1.8l-1.8 -1.8z M554 137.0l1.8 1.8l-1.8 1.8l-1.8 -1.8z M574 153.8l1.8 1.8l-1.8 1.8l-1.8 -1.8z M594 150.4l1.8 1.8l-1.8 1.8l-1.8 -1.8z M614 149.8l1.8 1.8l-1.8 1.8l-1.8 -1.8z M634 143.0l1.8 1.8l-1.8 1.8l-1.8 -1.8z M654 149.4l1.8 1.8l-1.8 1.8l-1.8 -1.8z M674 135.8l1.8 1.8l-1.8 1.8l-1.8 -1.8z" fill="#10d060"/><polyline points="34,123.4 54,124.5 74,122.5 94,130.8 114,131.4 134,141.4 154,155.5 174,173.1 194,180.5 214,172.6 234,183.0 254,203.0 274,161.1 294,148.9 314,142.7 334,124.7 354,114.0 374,109.4 394,111.5 414,115.6 434,112.2 454,99.1 474,93.4 494,96.4 514,91.8 534,99.5 554,108.8 574,118.6 594,113.8 614,113.8 634,113.8 654,125.0 674,120.0" stroke="#1a3a58" stroke-width="1" fill="none"/><path d="M34 121.6l1.8 1.8l-1.8 1.8l-1.8 -1.8z M54 122.7l1.8 1.8l-1.8 1.8l-1.8 -1.8z M74 120.7l1.8 1.8l-1.8 1.8l-1.8 -1.8z M94 129.0l1.8 1.8l-1.8 1.8l-1.8 -1.8z M114 129.6l1.8 1.8l-1.8 1.8l-1.8 -1.8z M134 139.6l1.8 1.8l-1.8 1.8l-1.8 -1.8z M154 153.7l1.8 1.8l-1.8 1.8l-1.8 -1.8z M174 171.3l1.8 1.8l-1.8 1.8l-1.8 -1.8z M194 178.7l1.8 1.8l-1.8 1.8l-1.8 -1.8z M214 170.8l1.8 1.8l-1.8 1.8l-1.8 -1.8z M234 181.2l1.8 1.8l-1.8 1.8l-1.8 -1.8z M254 201.2l1.8 1.8l-1.8 1.8l-1.8 -1.8z M274 159.3l1.8 1.8l-1.8 1.8l-1.8 -1.8z M294 147.1l1.8 1.8l-1.8 1.8l-1.8 -1.8z M314 140.9l1.8 1.8l-1.8 1.8l-1.8 -1.8z M334 122.9l1.8 1.8l-1.8 1.8l-1.8 -1.8z M354 112.2l1.8 1.8l-1.8 1.8l-1.8 -1.8z M374 107.6l1.8 1.8l-1.8 1.8l-1.8 -1.8z M394 109.7l1.8 1.8l-1.8 1.8l-1.8 -1.8z M414 113.8l1.8 1.8l-1.8 1.8l-1.8 -1.8z M434 110.4l1.8 1.8l-1.8 1.8l-1.8 -1.8z M454 97.3l1.8 1.8l-1.8 1.8l-1.8 -1.8z M474 91.6l1.8 1.8l-1.8 1.8l-1.8 -1.8z M494 94.6l1.8 1.8l-1.8 1.8l-1.8 -1.8z M514 90.0l1.8 1.8l-1.8 1.8l-1.8 -1.8z M534 97.7l1.8 1.8l-1.8 1.8l-1.8 -1.8z M554 107.0l1.8 1.8l-1.8 1.8l-1.8 -1.8z M574 116.8l1.8 1.8l-1.8 1.8l-1.8 -1.8z M594 112.0l1.8 1.8l-1.8 1.8l-1.8 -1.8z M614 112.0l1.8 1.8l-1.8 1.8l-1.8 -1.8z M634 112.0l1.8 1.8l-1.8 1.8l-1.8 -1.8z M654 123.2l1.8 1.8l-1.8 1.8l-1.8 -1.8z M674 118.2l1.8 1.8l-1.8 1.8l-1.8 -1.8z" fill="#1a3a58"/><polyline points="34,123.6 54,125.2 74,123.4 94,136.3 114,136.7 134,148.1 154,164.2 174,185.3 194,188.8 214,198.6 234,216.8 254,233.9 274,233.3 294,212.9 314,191.4 334,173.2 354,166.3 374,155.4 394,143.8 414,132.5 434,125.0 454,121.9 474,123.8 494,134.7 514,147.8 534,168.4 554,187.0 574,206.8 594,201.0 614,192.7 634,192.6 654,199.8 674,190.8" stroke="#606c78" stroke-width="1" fill="none"/><path d="M34 121.8l1.8 1.8l-1.8 1.8l-1.8 -1.8z M54 123.4l1.8 1.8l-1.8 1.8l-1.8 -1.8z M74 121.6l1.8 1.8l-1.8 1.8l-1.8 -1.8z M94 134.5l1.8 1.8l-1.8 1.8l-1.8 -1.8z M114 134.9l1.8 1.8l-1.8 1.8l-1.8 -1.8z M134 146.3l1.8 1.8l-1.8 1.8l-1.8 -1.8z M154 162.4l1.8 1.8l-1.8 1.8l-1.8 -1.8z M174 183.5l1.8 1.8l-1.8 1.8l-1.8 -1.8z M194 187.0l1.8 1.8l-1.8 1.8l-1.8 -1.8z M214 196.8l1.8 1.8l-1.8 1.8l-1.8 -1.8z M234 215.0l1.8 1.8l-1.8 1.8l-1.8 -1.8z M254 232.1l1.8 1.8l-1.8 1.8l-1.8 -1.8z M274 231.5l1.8 1.8l-1.8 1.8l-1.8 -1.8z M294 211.1l1.8 1.8l-1.8 1.8l-1.8 -1.8z M314 189.6l1.8 1.8l-1.8 1.8l-1.8 -1.8z M334 171.4l1.8 1.8l-1.8 1.8l-1.8 -1.8z M354 164.5l1.8 1.8l-1.8 1.8l-1.8 -1.8z M374 153.6l1.8 1.8l-1.8 1.8l-1.8 -1.8z M394 142.0l1.8 1.8l-1.8 1.8l-1.8 -1.8z M414 130.7l1.8 1.8l-1.8 1.8l-1.8 -1.8z M434 123.2l1.8 1.8l-1.8 1.8l-1.8 -1.8z M454 120.1l1.8 1.8l-1.8 1.8l-1.8 -1.8z M474 122.0l1.8 1.8l-1.8 1.8l-1.8 -1.8z M494 132.9l1.8 1.8l-1.8 1.8l-1.8 -1.8z M514 146.0l1.8 1.8l-1.8 1.8l-1.8 -1.8z M534 166.6l1.8 1.8l-1.8 1.8l-1.8 -1.8z M554 185.2l1.8 1.8l-1.8 1.8l-1.8 -1.8z M574 205.0l1.8 1.8l-1.8 1.8l-1.8 -1.8z M594 199.2l1.8 1.8l-1.8 1.8l-1.8 -1.8z M614 190.9l1.8 1.8l-1.8 1.8l-1.8 -1.8z M634 190.8l1.8 1.8l-1.8 1.8l-1.8 -1.8z M654 198.0l1.8 1.8l-1.8 1.8l-1.8 -1.8z M674 189.0l1.8 1.8l-1.8 1.8l-1.8 -1.8z" fill="#606c78"/><polyline points="34,122.7 54,124.1 74,124.1 94,136.1 114,139.4 134,152.0 154,160.0 174,186.0 194,196.4 214,212.0 234,227.6 254,240.7 274,230.0 294,203.1 314,172.5 334,162.4 354,149.9 374,141.7 394,139.1 414,130.7 434,123.2 454,122.0 474,126.1 494,136.9 514,143.1 534,162.4 554,163.6 574,196.8 594,197.6 614,183.6 634,165.8 654,158.1 674,157.4" stroke="#e070f0" stroke-width="1" fill="none"/><path d="M34 120.9l1.8 1.8l-1.8 1.8l-1.8 -1.8z M54 122.3l1.8 1.8l-1.8 1.8l-1.8 -1.8z M74 122.3l1.8 1.8l-1.8 1.8l-1.8 -1.8z M94 134.3l1.8 1.8l-1.8 1.8l-1.8 -1.8z M114 137.6l1.8 1.8l-1.8 1.8l-1.8 -1.8z M134 150.2l1.8 1.8l-1.8 1.8l-1.8 -1.8z M154 158.2l1.8 1.8l-1.8 1.8l-1.8 -1.8z M174 184.2l1.8 1.8l-1.8 1.8l-1.8 -1.8z M194 194.6l1.8 1.8l-1.8 1.8l-1.8 -1.8z M214 210.2l1.8 1.8l-1.8 1.8l-1.8 -1.8z M234 225.8l1.8 1.8l-1.8 1.8l-1.8 -1.8z M254 238.9l1.8 1.8l-1.8 1.8l-1.8 -1.8z M274 228.2l1.8 1.8l-1.8 1.8l-1.8 -1.8z M294 201.3l1.8 1.8l-1.8 1.8l-1.8 -1.8z M314 170.7l1.8 1.8l-1.8 1.8l-1.8 -1.8z M334 160.6l1.8 1.8l-1.8 1.8l-1.8 -1.8z M354 148.1l1.8 1.8l-1.8 1.8l-1.8 -1.8z M374 139.9l1.8 1.8l-1.8 1.8l-1.8 -1.8z M394 137.3l1.8 1.8l-1.8 1.8l-1.8 -1.8z M414 128.9l1.8 1.8l-1.8 1.8l-1.8 -1.8z M434 121.4l1.8 1.8l-1.8 1.8l-1.8 -1.8z M454 120.2l1.8 1.8l-1.8 1.8l-1.8 -1.8z M474 124.3l1.8 1.8l-1.8 1.8l-1.8 -1.8z M494 135.1l1.8 1.8l-1.8 1.8l-1.8 -1.8z M514 141.3l1.8 1.8l-1.8 1.8l-1.8 -1.8z M534 160.6l1.8 1.8l-1.8 1.8l-1.8 -1.8z M554 161.8l1.8 1.8l-1.8 1.8l-1.8 -1.8z M574 195.0l1.8 1.8l-1.8 1.8l-1.8 -1.8z M594 195.8l1.8 1.8l-1.8 1.8l-1.8 -1.8z M614 181.8l1.8 1.8l-1.8 1.8l-1.8 -1.8z M634 164.0l1.8 1.8l-1.8 1.8l-1.8 -1.8z M654 156.3l1.8 1.8l-1.8 1.8l-1.8 -1.8z M674 155.6l1.8 1.8l-1.8 1.8l-1.8 -1.8z" fill="#e070f0"/><polyline points="34,120.6 54,120.4 74,116.2 94,121.9 114,114.2 134,117.8 154,123.7 174,142.6 194,146.3 214,157.8 234,169.2 254,178.7 274,148.6 294,128.8 314,127.0 334,123.5 354,109.2 374,99.9 394,92.1 414,89.0 434,84.2 454,84.1 474,85.1 494,99.4 514,115.3 534,129.1 554,143.5 574,183.6 594,160.3 614,158.6 634,170.0 654,216.0 674,206.6" stroke="#7010f0" stroke-width="1" fill="none"/><path d="M34 118.8l1.8 1.8l-1.8 1.8l-1.8 -1.8z M54 118.6l1.8 1.8l-1.8 1.8l-1.8 -1.8z M74 114.4l1.8 1.8l-1.8 1.8l-1.8 -1.8z M94 120.1l1.8 1.8l-1.8 1.8l-1.8 -1.8z M114 112.4l1.8 1.8l-1.8 1.8l-1.8 -1.8z M134 116.0l1.8 1.8l-1.8 1.8l-1.8 -1.8z M154 121.9l1.8 1.8l-1.8 1.8l-1.8 -1.8z M174 140.8l1.8 1.8l-1.8 1.8l-1.8 -1.8z M194 144.5l1.8 1.8l-1.8 1.8l-1.8 -1.8z M214 156.0l1.8 1.8l-1.8 1.8l-1.8 -1.8z M234 167.4l1.8 1.8l-1.8 1.8l-1.8 -1.8z M254 176.9l1.8 1.8l-1.8 1.8l-1.8 -1.8z M274 146.8l1.8 1.8l-1.8 1.8l-1.8 -1.8z M294 127.0l1.8 1.8l-1.8 1.8l-1.8 -1.8z M314 125.2l1.8 1.8l-1.8 1.8l-1.8 -1.8z M334 121.7l1.8 1.8l-1.8 1.8l-1.8 -1.8z M354 107.4l1.8 1.8l-1.8 1.8l-1.8 -1.8z M374 98.1l1.8 1.8l-1.8 1.8l-1.8 -1.8z M394 90.3l1.8 1.8l-1.8 1.8l-1.8 -1.8z M414 87.2l1.8 1.8l-1.8 1.8l-1.8 -1.8z M434 82.4l1.8 1.8l-1.8 1.8l-1.8 -1.8z M454 82.3l1.8 1.8l-1.8 1.8l-1.8 -1.8z M474 83.3l1.8 1.8l-1.8 1.8l-1.8 -1.8z M494 97.6l1.8 1.8l-1.8 1.8l-1.8 -1.8z M514 113.5l1.8 1.8l-1.8 1.8l-1.8 -1.8z M534 127.3l1.8 1.8l-1.8 1.8l-1.8 -1.8z M554 141.7l1.8 1.8l-1.8 1.8l-1.8 -1.8z M574 181.8l1.8 1.8l-1.8 1.8l-1.8 -1.8z M594 158.5l1.8 1.8l-1.8 1.8l-1.8 -1.8z M614 156.8l1.8 1.8l-1.8 1.8l-1.8 -1.8z M634 168.2l1.8 1.8l-1.8 1.8l-1.8 -1.8z M654 214.2l1.8 1.8l-1.8 1.8l-1.8 -1.8z M674 204.8l1.8 1.8l-1.8 1.8l-1.8 -1.8z" fill="#7010f0"/><polyline points="34,121.8 54,122.5 74,120.2 94,130.3 114,121.5 134,123.4 154,133.5 174,150.5 194,150.9 214,167.8 234,178.7 254,201.5 274,180.9 294,164.5 314,155.4 334,139.2 354,104.4 374,86.0 394,80.0 414,82.0 434,70.0 454,71.7 474,69.2 494,82.5 514,80.3 534,96.4 554,112.0 574,130.5 594,165.9 614,173.4 634,182.4 654,181.9 674,169.0" stroke="#705028" stroke-width="1" fill="none"/><path d="M34 120.0l1.8 1.8l-1.8 1.8l-1.8 -1.8z M54 120.7l1.8 1.8l-1.8 1.8l-1.8 -1.8z M74 118.4l1.8 1.8l-1.8 1.8l-1.8 -1.8z M94 128.5l1.8 1.8l-1.8 1.8l-1.8 -1.8z M114 119.7l1.8 1.8l-1.8 1.8l-1.8 -1.8z M134 121.6l1.8 1.8l-1.8 1.8l-1.8 -1.8z M154 131.7l1.8 1.8l-1.8 1.8l-1.8 -1.8z M174 148.7l1.8 1.8l-1.8 1.8l-1.8 -1.8z M194 149.1l1.8 1.8l-1.8 1.8l-1.8 -1.8z M214 166.0l1.8 1.8l-1.8 1.8l-1.8 -1.8z M234 176.9l1.8 1.8l-1.8 1.8l-1.8 -1.8z M254 199.7l1.8 1.8l-1.8 1.8l-1.8 -1.8z M274 179.1l1.8 1.8l-1.8 1.8l-1.8 -1.8z M294 162.7l1.8 1.8l-1.8 1.8l-1.8 -1.8z M314 153.6l1.8 1.8l-1.8 1.8l-1.8 -1.8z M334 137.4l1.8 1.8l-1.8 1.8l-1.8 -1.8z M354 102.6l1.8 1.8l-1.8 1.8l-1.8 -1.8z M374 84.2l1.8 1.8l-1.8 1.8l-1.8 -1.8z M394 78.2l1.8 1.8l-1.8 1.8l-1.8 -1.8z M414 80.2l1.8 1.8l-1.8 1.8l-1.8 -1.8z M434 68.2l1.8 1.8l-1.8 1.8l-1.8 -1.8z M454 69.9l1.8 1.8l-1.8 1.8l-1.8 -1.8z M474 67.4l1.8 1.8l-1.8 1.8l-1.8 -1.8z M494 80.7l1.8 1.8l-1.8 1.8l-1.8 -1.8z M514 78.5l1.8 1.8l-1.8 1.8l-1.8 -1.8z M534 94.6l1.8 1.8l-1.8 1.8l-1.8 -1.8z M554 110.2l1.8 1.8l-1.8 1.8l-1.8 -1.8z M574 128.7l1.8 1.8l-1.8 1.8l-1.8 -1.8z M594 164.1l1.8 1.8l-1.8 1.8l-1.8 -1.8z M614 171.6l1.8 1.8l-1.8 1.8l-1.8 -1.8z M634 180.6l1.8 1.8l-1.8 1.8l-1.8 -1.8z M654 180.1l1.8 1.8l-1.8 1.8l-1.8 -1.8z M674 167.2l1.8 1.8l-1.8 1.8l-1.8 -1.8z" fill="#705028"/><polyline points="34,123.9 54,124.9 74,123.6 94,135.3 114,131.5 134,143.3 154,158.2 174,180.7 194,191.5 214,198.1 234,214.2 254,235.9 274,221.4 294,190.6 314,157.9 334,137.2 354,132.4 374,143.6 394,136.9 414,128.2 434,126.5 454,121.1 474,123.6 494,135.4 514,145.6 534,162.5 554,172.6 574,193.8 594,191.4 614,176.7 634,175.9 654,177.9 674,173.9" stroke="#280868" stroke-width="1" fill="none"/><path d="M34 122.1l1.8 1.8l-1.8 1.8l-1.8 -1.8z M54 123.1l1.8 1.8l-1.8 1.8l-1.8 -1.8z M74 121.8l1.8 1.8l-1.8 1.8l-1.8 -1.8z M94 133.5l1.8 1.8l-1.8 1.8l-1.8 -1.8z M114 129.7l1.8 1.8l-1.8 1.8l-1.8 -1.8z M134 141.5l1.8 1.8l-1.8 1.8l-1.8 -1.8z M154 156.4l1.8 1.8l-1.8 1.8l-1.8 -1.8z M174 178.9l1.8 1.8l-1.8 1.8l-1.8 -1.8z M194 189.7l1.8 1.8l-1.8 1.8l-1.8 -1.8z M214 196.3l1.8 1.8l-1.8 1.8l-1.8 -1.8z M234 212.4l1.8 1.8l-1.8 1.8l-1.8 -1.8z M254 234.1l1.8 1.8l-1.8 1.8l-1.8 -1.8z M274 219.6l1.8 1.8l-1.8 1.8l-1.8 -1.8z M294 188.8l1.8 1.8l-1.8 1.8l-1.8 -1.8z M314 156.1l1.8 1.8l-1.8 1.8l-1.8 -1.8z M334 135.4l1.8 1.8l-1.8 1.8l-1.8 -1.8z M354 130.6l1.8 1.8l-1.8 1.8l-1.8 -1.8z M374 141.8l1.8 1.8l-1.8 1.8l-1.8 -1.8z M394 135.1l1.8 1.8l-1.8 1.8l-1.8 -1.8z M414 126.4l1.8 1.8l-1.8 1.8l-1.8 -1.8z M434 124.7l1.8 1.8l-1.8 1.8l-1.8 -1.8z M454 119.3l1.8 1.8l-1.8 1.8l-1.8 -1.8z M474 121.8l1.8 1.8l-1.8 1.8l-1.8 -1.8z M494 133.6l1.8 1.8l-1.8 1.8l-1.8 -1.8z M514 143.8l1.8 1.8l-1.8 1.8l-1.8 -1.8z M534 160.7l1.8 1.8l-1.8 1.8l-1.8 -1.8z M554 170.8l1.8 1.8l-1.8 1.8l-1.8 -1.8z M574 192.0l1.8 1.8l-1.8 1.8l-1.8 -1.8z M594 189.6l1.8 1.8l-1.8 1.8l-1.8 -1.8z M614 174.9l1.8 1.8l-1.8 1.8l-1.8 -1.8z M634 174.1l1.8 1.8l-1.8 1.8l-1.8 -1.8z M654 176.1l1.8 1.8l-1.8 1.8l-1.8 -1.8z M674 172.1l1.8 1.8l-1.8 1.8l-1.8 -1.8z" fill="#280868"/><polyline points="34,122.3 54,123.0 74,120.4 94,131.0 114,133.9 134,140.4 154,157.7 174,173.6 194,181.2 214,199.3 234,221.4 254,232.5 274,216.0 294,195.0 314,155.9 334,145.3 354,123.5 374,123.0 394,107.0 414,94.5 434,93.4 454,91.8 474,86.5 494,101.5 514,96.4 534,99.5 554,102.6 574,115.4 594,110.5 614,108.0 634,105.6 654,122.0 674,110.5" stroke="#f0d000" stroke-width="1" fill="none"/><path d="M34 120.5l1.8 1.8l-1.8 1.8l-1.8 -1.8z M54 121.2l1.8 1.8l-1.8 1.8l-1.8 -1.8z M74 118.6l1.8 1.8l-1.8 1.8l-1.8 -1.8z M94 129.2l1.8 1.8l-1.8 1.8l-1.8 -1.8z M114 132.1l1.8 1.8l-1.8 1.8l-1.8 -1.8z M134 138.6l1.8 1.8l-1.8 1.8l-1.8 -1.8z M154 155.9l1.8 1.8l-1.8 1.8l-1.8 -1.8z M174 171.8l1.8 1.8l-1.8 1.8l-1.8 -1.8z M194 179.4l1.8 1.8l-1.8 1.8l-1.8 -1.8z M214 197.5l1.8 1.8l-1.8 1.8l-1.8 -1.8z M234 219.6l1.8 1.8l-1.8 1.8l-1.8 -1.8z M254 230.7l1.8 1.8l-1.8 1.8l-1.8 -1.8z M274 214.2l1.8 1.8l-1.8 1.8l-1.8 -1.8z M294 193.2l1.8 1.8l-1.8 1.8l-1.8 -1.8z M314 154.1l1.8 1.8l-1.8 1.8l-1.8 -1.8z M334 143.5l1.8 1.8l-1.8 1.8l-1.8 -1.8z M354 121.7l1.8 1.8l-1.8 1.8l-1.8 -1.8z M374 121.2l1.8 1.8l-1.8 1.8l-1.8 -1.8z M394 105.2l1.8 1.8l-1.8 1.8l-1.8 -1.8z M414 92.7l1.8 1.8l-1.8 1.8l-1.8 -1.8z M434 91.6l1.8 1.8l-1.8 1.8l-1.8 -1.8z M454 90.0l1.8 1.8l-1.8 1.8l-1.8 -1.8z M474 84.7l1.8 1.8l-1.8 1.8l-1.8 -1.8z M494 99.7l1.8 1.8l-1.8 1.8l-1.8 -1.8z M514 94.6l1.8 1.8l-1.8 1.8l-1.8 -1.8z M534 97.7l1.8 1.8l-1.8 1.8l-1.8 -1.8z M554 100.8l1.8 1.8l-1.8 1.8l-1.8 -1.8z M574 113.6l1.8 1.8l-1.8 1.8l-1.8 -1.8z M594 108.7l1.8 1.8l-1.8 1.8l-1.8 -1.8z M614 106.2l1.8 1.8l-1.8 1.8l-1.8 -1.8z M634 103.8l1.8 1.8l-1.8 1.8l-1.8 -1.8z M654 120.2l1.8 1.8l-1.8 1.8l-1.8 -1.8z M674 108.7l1.8 1.8l-1.8 1.8l-1.8 -1.8z" fill="#f0d000"/><polyline points="34,121.1 54,121.3 74,119.2 94,126.0 114,131.1 134,133.3 154,142.7 174,164.8 194,177.8 214,178.5 234,174.7 254,194.7 274,172.8 294,158.4 314,174.5 334,157.5 354,144.9 374,140.6 394,131.0 414,128.0 434,116.1 454,105.5 474,84.6 494,100.6 514,105.7 534,127.9 554,159.4 574,169.2 594,150.0 614,122.0 634,102.0 654,110.0 674,91.0" stroke="#205898" stroke-width="1" fill="none"/><path d="M34 119.3l1.8 1.8l-1.8 1.8l-1.8 -1.8z M54 119.5l1.8 1.8l-1.8 1.8l-1.8 -1.8z M74 117.4l1.8 1.8l-1.8 1.8l-1.8 -1.8z M94 124.2l1.8 1.8l-1.8 1.8l-1.8 -1.8z M114 129.3l1.8 1.8l-1.8 1.8l-1.8 -1.8z M134 131.5l1.8 1.8l-1.8 1.8l-1.8 -1.8z M154 140.9l1.8 1.8l-1.8 1.8l-1.8 -1.8z M174 163.0l1.8 1.8l-1.8 1.8l-1.8 -1.8z M194 176.0l1.8 1.8l-1.8 1.8l-1.8 -1.8z M214 176.7l1.8 1.8l-1.8 1.8l-1.8 -1.8z M234 172.9l1.8 1.8l-1.8 1.8l-1.8 -1.8z M254 192.9l1.8 1.8l-1.8 1.8l-1.8 -1.8z M274 171.0l1.8 1.8l-1.8 1.8l-1.8 -1.8z M294 156.6l1.8 1.8l-1.8 1.8l-1.8 -1.8z M314 172.7l1.8 1.8l-1.8 1.8l-1.8 -1.8z M334 155.7l1.8 1.8l-1.8 1.8l-1.8 -1.8z M354 143.1l1.8 1.8l-1.8 1.8l-1.8 -1.8z M374 138.8l1.8 1.8l-1.8 1.8l-1.8 -1.8z M394 129.2l1.8 1.8l-1.8 1.8l-1.8 -1.8z M414 126.2l1.8 1.8l-1.8 1.8l-1.8 -1.8z M434 114.3l1.8 1.8l-1.8 1.8l-1.8 -1.8z M454 103.7l1.8 1.8l-1.8 1.8l-1.8 -1.8z M474 82.8l1.8 1.8l-1.8 1.8l-1.8 -1.8z M494 98.8l1.8 1.8l-1.8 1.8l-1.8 -1.8z M514 103.9l1.8 1.8l-1.8 1.8l-1.8 -1.8z M534 126.1l1.8 1.8l-1.8 1.8l-1.8 -1.8z M554 157.6l1.8 1.8l-1.8 1.8l-1.8 -1.8z M574 167.4l1.8 1.8l-1.8 1.8l-1.8 -1.8z M594 148.2l1.8 1.8l-1.8 1.8l-1.8 -1.8z M614 120.2l1.8 1.8l-1.8 1.8l-1.8 -1.8z M634 100.2l1.8 1.8l-1.8 1.8l-1.8 -1.8z M654 108.2l1.8 1.8l-1.8 1.8l-1.8 -1.8z M674 89.2l1.8 1.8l-1.8 1.8l-1.8 -1.8z" fill="#205898"/><polyline points="34,120.2 54,120.0 74,115.7 94,122.2 114,117.8 134,120.4 154,129.8 174,148.3 194,147.0 214,162.9 234,177.8 254,182.9 274,158.0 294,139.5 314,118.7 334,117.9 354,107.0 374,105.2 394,99.6 414,96.0 434,84.7 454,86.0 474,84.7 494,95.4 514,103.3 534,122.7 554,138.9 574,153.2 594,148.2 614,139.8 634,139.5 654,149.8 674,137.4" stroke="#8a4a18" stroke-width="1" fill="none"/><path d="M34 118.4l1.8 1.8l-1.8 1.8l-1.8 -1.8z M54 118.2l1.8 1.8l-1.8 1.8l-1.8 -1.8z M74 113.9l1.8 1.8l-1.8 1.8l-1.8 -1.8z M94 120.4l1.8 1.8l-1.8 1.8l-1.8 -1.8z M114 116.0l1.8 1.8l-1.8 1.8l-1.8 -1.8z M134 118.6l1.8 1.8l-1.8 1.8l-1.8 -1.8z M154 128.0l1.8 1.8l-1.8 1.8l-1.8 -1.8z M174 146.5l1.8 1.8l-1.8 1.8l-1.8 -1.8z M194 145.2l1.8 1.8l-1.8 1.8l-1.8 -1.8z M214 161.1l1.8 1.8l-1.8 1.8l-1.8 -1.8z M234 176.0l1.8 1.8l-1.8 1.8l-1.8 -1.8z M254 181.1l1.8 1.8l-1.8 1.8l-1.8 -1.8z M274 156.2l1.8 1.8l-1.8 1.8l-1.8 -1.8z M294 137.7l1.8 1.8l-1.8 1.8l-1.8 -1.8z M314 116.9l1.8 1.8l-1.8 1.8l-1.8 -1.8z M334 116.1l1.8 1.8l-1.8 1.8l-1.8 -1.8z M354 105.2l1.8 1.8l-1.8 1.8l-1.8 -1.8z M374 103.4l1.8 1.8l-1.8 1.8l-1.8 -1.8z M394 97.8l1.8 1.8l-1.8 1.8l-1.8 -1.8z M414 94.2l1.8 1.8l-1.8 1.8l-1.8 -1.8z M434 82.9l1.8 1.8l-1.8 1.8l-1.8 -1.8z M454 84.2l1.8 1.8l-1.8 1.8l-1.8 -1.8z M474 82.9l1.8 1.8l-1.8 1.8l-1.8 -1.8z M494 93.6l1.8 1.8l-1.8 1.8l-1.8 -1.8z M514 101.5l1.8 1.8l-1.8 1.8l-1.8 -1.8z M534 120.9l1.8 1.8l-1.8 1.8l-1.8 -1.8z M554 137.1l1.8 1.8l-1.8 1.8l-1.8 -1.8z M574 151.4l1.8 1.8l-1.8 1.8l-1.8 -1.8z M594 146.4l1.8 1.8l-1.8 1.8l-1.8 -1.8z M614 138.0l1.8 1.8l-1.8 1.8l-1.8 -1.8z M634 137.7l1.8 1.8l-1.8 1.8l-1.8 -1.8z M654 148.0l1.8 1.8l-1.8 1.8l-1.8 -1.8z M674 135.6l1.8 1.8l-1.8 1.8l-1.8 -1.8z" fill="#8a4a18"/><polyline points="34,121.0 54,120.2 74,116.4 94,119.4 114,107.8 134,111.7 154,117.0 174,132.6 194,133.9 214,148.2 234,162.5 254,168.0 274,192.8 294,198.9 314,177.8 334,158.8 354,151.9 374,131.9 394,127.7 414,123.2 434,116.7 454,112.8 474,100.0 494,119.7 514,113.0 534,129.1 554,142.4 574,158.4 594,159.6 614,157.4 634,154.2 654,165.5 674,172.6" stroke="#9080e8" stroke-width="1" fill="none"/><path d="M34 119.2l1.8 1.8l-1.8 1.8l-1.8 -1.8z M54 118.4l1.8 1.8l-1.8 1.8l-1.8 -1.8z M74 114.6l1.8 1.8l-1.8 1.8l-1.8 -1.8z M94 117.6l1.8 1.8l-1.8 1.8l-1.8 -1.8z M114 106.0l1.8 1.8l-1.8 1.8l-1.8 -1.8z M134 109.9l1.8 1.8l-1.8 1.8l-1.8 -1.8z M154 115.2l1.8 1.8l-1.8 1.8l-1.8 -1.8z M174 130.8l1.8 1.8l-1.8 1.8l-1.8 -1.8z M194 132.1l1.8 1.8l-1.8 1.8l-1.8 -1.8z M214 146.4l1.8 1.8l-1.8 1.8l-1.8 -1.8z M234 160.7l1.8 1.8l-1.8 1.8l-1.8 -1.8z M254 166.2l1.8 1.8l-1.8 1.8l-1.8 -1.8z M274 191.0l1.8 1.8l-1.8 1.8l-1.8 -1.8z M294 197.1l1.8 1.8l-1.8 1.8l-1.8 -1.8z M314 176.0l1.8 1.8l-1.8 1.8l-1.8 -1.8z M334 157.0l1.8 1.8l-1.8 1.8l-1.8 -1.8z M354 150.1l1.8 1.8l-1.8 1.8l-1.8 -1.8z M374 130.1l1.8 1.8l-1.8 1.8l-1.8 -1.8z M394 125.9l1.8 1.8l-1.8 1.8l-1.8 -1.8z M414 121.4l1.8 1.8l-1.8 1.8l-1.8 -1.8z M434 114.9l1.8 1.8l-1.8 1.8l-1.8 -1.8z M454 111.0l1.8 1.8l-1.8 1.8l-1.8 -1.8z M474 98.2l1.8 1.8l-1.8 1.8l-1.8 -1.8z M494 117.9l1.8 1.8l-1.8 1.8l-1.8 -1.8z M514 111.2l1.8 1.8l-1.8 1.8l-1.8 -1.8z M534 127.3l1.8 1.8l-1.8 1.8l-1.8 -1.8z M554 140.6l1.8 1.8l-1.8 1.8l-1.8 -1.8z M574 156.6l1.8 1.8l-1.8 1.8l-1.8 -1.8z M594 157.8l1.8 1.8l-1.8 1.8l-1.8 -1.8z M614 155.6l1.8 1.8l-1.8 1.8l-1.8 -1.8z M634 152.4l1.8 1.8l-1.8 1.8l-1.8 -1.8z M654 163.7l1.8 1.8l-1.8 1.8l-1.8 -1.8z M674 170.8l1.8 1.8l-1.8 1.8l-1.8 -1.8z" fill="#9080e8"/><polyline points="34,122.0 54,123.9 74,124.8 94,141.5 114,141.7 134,150.8 154,158.6 174,184.7 194,192.5 214,211.6 234,230.7 254,249.8 274,183.4 294,142.3 314,125.3 334,118.1 354,100.5 374,91.6 394,87.4 414,85.3 434,80.5 454,80.4 474,81.2 494,93.3 514,103.5 534,129.0 554,156.1 574,197.0 594,213.0 614,211.5 634,189.5 654,167.5 674,122.0" stroke="#90f040" stroke-width="1" fill="none"/><path d="M34 120.2l1.8 1.8l-1.8 1.8l-1.8 -1.8z M54 122.1l1.8 1.8l-1.8 1.8l-1.8 -1.8z M74 123.0l1.8 1.8l-1.8 1.8l-1.8 -1.8z M94 139.7l1.8 1.8l-1.8 1.8l-1.8 -1.8z M114 139.9l1.8 1.8l-1.8 1.8l-1.8 -1.8z M134 149.0l1.8 1.8l-1.8 1.8l-1.8 -1.8z M154 156.8l1.8 1.8l-1.8 1.8l-1.8 -1.8z M174 182.9l1.8 1.8l-1.8 1.8l-1.8 -1.8z M194 190.7l1.8 1.8l-1.8 1.8l-1.8 -1.8z M214 209.8l1.8 1.8l-1.8 1.8l-1.8 -1.8z M234 228.9l1.8 1.8l-1.8 1.8l-1.8 -1.8z M254 248.0l1.8 1.8l-1.8 1.8l-1.8 -1.8z M274 181.6l1.8 1.8l-1.8 1.8l-1.8 -1.8z M294 140.5l1.8 1.8l-1.8 1.8l-1.8 -1.8z M314 123.5l1.8 1.8l-1.8 1.8l-1.8 -1.8z M334 116.3l1.8 1.8l-1.8 1.8l-1.8 -1.8z M354 98.7l1.8 1.8l-1.8 1.8l-1.8 -1.8z M374 89.8l1.8 1.8l-1.8 1.8l-1.8 -1.8z M394 85.6l1.8 1.8l-1.8 1.8l-1.8 -1.8z M414 83.5l1.8 1.8l-1.8 1.8l-1.8 -1.8z M434 78.7l1.8 1.8l-1.8 1.8l-1.8 -1.8z M454 78.6l1.8 1.8l-1.8 1.8l-1.8 -1.8z M474 79.4l1.8 1.8l-1.8 1.8l-1.8 -1.8z M494 91.5l1.8 1.8l-1.8 1.8l-1.8 -1.8z M514 101.7l1.8 1.8l-1.8 1.8l-1.8 -1.8z M534 127.2l1.8 1.8l-1.8 1.8l-1.8 -1.8z M554 154.3l1.8 1.8l-1.8 1.8l-1.8 -1.8z M574 195.2l1.8 1.8l-1.8 1.8l-1.8 -1.8z M594 211.2l1.8 1.8l-1.8 1.8l-1.8 -1.8z M614 209.7l1.8 1.8l-1.8 1.8l-1.8 -1.8z M634 187.7l1.8 1.8l-1.8 1.8l-1.8 -1.8z M654 165.7l1.8 1.8l-1.8 1.8l-1.8 -1.8z M674 120.2l1.8 1.8l-1.8 1.8l-1.8 -1.8z" fill="#90f040"/><polyline points="34,119.9 54,119.4 74,114.8 94,119.7 114,112.9 134,116.3 154,122.7 174,141.3 194,143.7 214,150.8 234,161.4 254,175.5 274,141.3 294,124.3 314,114.5 334,106.5 354,97.6 374,95.0 394,89.3 414,91.1 434,84.6 454,84.5 474,81.7 494,92.8 514,103.6 534,123.3 554,136.9 574,150.2 594,144.5 614,139.9 634,140.9 654,150.5 674,136.4" stroke="#d878d0" stroke-width="1" fill="none"/><path d="M34 118.1l1.8 1.8l-1.8 1.8l-1.8 -1.8z M54 117.6l1.8 1.8l-1.8 1.8l-1.8 -1.8z M74 113.0l1.8 1.8l-1.8 1.8l-1.8 -1.8z M94 117.9l1.8 1.8l-1.8 1.8l-1.8 -1.8z M114 111.1l1.8 1.8l-1.8 1.8l-1.8 -1.8z M134 114.5l1.8 1.8l-1.8 1.8l-1.8 -1.8z M154 120.9l1.8 1.8l-1.8 1.8l-1.8 -1.8z M174 139.5l1.8 1.8l-1.8 1.8l-1.8 -1.8z M194 141.9l1.8 1.8l-1.8 1.8l-1.8 -1.8z M214 149.0l1.8 1.8l-1.8 1.8l-1.8 -1.8z M234 159.6l1.8 1.8l-1.8 1.8l-1.8 -1.8z M254 173.7l1.8 1.8l-1.8 1.8l-1.8 -1.8z M274 139.5l1.8 1.8l-1.8 1.8l-1.8 -1.8z M294 122.5l1.8 1.8l-1.8 1.8l-1.8 -1.8z M314 112.7l1.8 1.8l-1.8 1.8l-1.8 -1.8z M334 104.7l1.8 1.8l-1.8 1.8l-1.8 -1.8z M354 95.8l1.8 1.8l-1.8 1.8l-1.8 -1.8z M374 93.2l1.8 1.8l-1.8 1.8l-1.8 -1.8z M394 87.5l1.8 1.8l-1.8 1.8l-1.8 -1.8z M414 89.3l1.8 1.8l-1.8 1.8l-1.8 -1.8z M434 82.8l1.8 1.8l-1.8 1.8l-1.8 -1.8z M454 82.7l1.8 1.8l-1.8 1.8l-1.8 -1.8z M474 79.9l1.8 1.8l-1.8 1.8l-1.8 -1.8z M494 91.0l1.8 1.8l-1.8 1.8l-1.8 -1.8z M514 101.8l1.8 1.8l-1.8 1.8l-1.8 -1.8z M534 121.5l1.8 1.8l-1.8 1.8l-1.8 -1.8z M554 135.1l1.8 1.8l-1.8 1.8l-1.8 -1.8z M574 148.4l1.8 1.8l-1.8 1.8l-1.8 -1.8z M594 142.7l1.8 1.8l-1.8 1.8l-1.8 -1.8z M614 138.1l1.8 1.8l-1.8 1.8l-1.8 -1.8z M634 139.1l1.8 1.8l-1.8 1.8l-1.8 -1.8z M654 148.7l1.8 1.8l-1.8 1.8l-1.8 -1.8z M674 134.6l1.8 1.8l-1.8 1.8l-1.8 -1.8z" fill="#d878d0"/><polyline points="34,122.7 54,124.2 74,122.3 94,131.3 114,132.9 134,141.3 154,153.7 174,171.8 194,178.9 214,201.2 234,226.5 254,246.0 274,230.6 294,220.8 314,188.5 334,168.0 354,144.0 374,129.3 394,128.6 414,127.3 434,118.7 454,114.5 474,109.6 494,133.6 514,146.0 534,167.6 554,183.0 574,206.3 594,205.0 614,183.5 634,176.6 654,186.1 674,172.6" stroke="#1a0aa0" stroke-width="1" fill="none"/><path d="M34 120.9l1.8 1.8l-1.8 1.8l-1.8 -1.8z M54 122.4l1.8 1.8l-1.8 1.8l-1.8 -1.8z M74 120.5l1.8 1.8l-1.8 1.8l-1.8 -1.8z M94 129.5l1.8 1.8l-1.8 1.8l-1.8 -1.8z M114 131.1l1.8 1.8l-1.8 1.8l-1.8 -1.8z M134 139.5l1.8 1.8l-1.8 1.8l-1.8 -1.8z M154 151.9l1.8 1.8l-1.8 1.8l-1.8 -1.8z M174 170.0l1.8 1.8l-1.8 1.8l-1.8 -1.8z M194 177.1l1.8 1.8l-1.8 1.8l-1.8 -1.8z M214 199.4l1.8 1.8l-1.8 1.8l-1.8 -1.8z M234 224.7l1.8 1.8l-1.8 1.8l-1.8 -1.8z M254 244.2l1.8 1.8l-1.8 1.8l-1.8 -1.8z M274 228.8l1.8 1.8l-1.8 1.8l-1.8 -1.8z M294 219.0l1.8 1.8l-1.8 1.8l-1.8 -1.8z M314 186.7l1.8 1.8l-1.8 1.8l-1.8 -1.8z M334 166.2l1.8 1.8l-1.8 1.8l-1.8 -1.8z M354 142.2l1.8 1.8l-1.8 1.8l-1.8 -1.8z M374 127.5l1.8 1.8l-1.8 1.8l-1.8 -1.8z M394 126.8l1.8 1.8l-1.8 1.8l-1.8 -1.8z M414 125.5l1.8 1.8l-1.8 1.8l-1.8 -1.8z M434 116.9l1.8 1.8l-1.8 1.8l-1.8 -1.8z M454 112.7l1.8 1.8l-1.8 1.8l-1.8 -1.8z M474 107.8l1.8 1.8l-1.8 1.8l-1.8 -1.8z M494 131.8l1.8 1.8l-1.8 1.8l-1.8 -1.8z M514 144.2l1.8 1.8l-1.8 1.8l-1.8 -1.8z M534 165.8l1.8 1.8l-1.8 1.8l-1.8 -1.8z M554 181.2l1.8 1.8l-1.8 1.8l-1.8 -1.8z M574 204.5l1.8 1.8l-1.8 1.8l-1.8 -1.8z M594 203.2l1.8 1.8l-1.8 1.8l-1.8 -1.8z M614 181.7l1.8 1.8l-1.8 1.8l-1.8 -1.8z M634 174.8l1.8 1.8l-1.8 1.8l-1.8 -1.8z M654 184.3l1.8 1.8l-1.8 1.8l-1.8 -1.8z M674 170.8l1.8 1.8l-1.8 1.8l-1.8 -1.8z" fill="#1a0aa0"/><polyline points="34,121.2 54,121.8 74,119.6 94,124.8 114,123.1 134,121.5 154,135.5 174,153.8 194,159.7 214,183.5 234,200.3 254,198.3 274,153.3 294,145.8 314,141.5 334,125.0 354,119.8 374,118.6 394,120.4 414,104.2 434,108.3 454,128.0 474,125.9 494,148.0 514,156.8 534,180.0 554,201.7 574,222.0 594,214.3 614,206.6 634,221.3 654,236.0 674,232.0" stroke="#e0d0a8" stroke-width="1" fill="none"/><path d="M34 119.4l1.8 1.8l-1.8 1.8l-1.8 -1.8z M54 120.0l1.8 1.8l-1.8 1.8l-1.8 -1.8z M74 117.8l1.8 1.8l-1.8 1.8l-1.8 -1.8z M94 123.0l1.8 1.8l-1.8 1.8l-1.8 -1.8z M114 121.3l1.8 1.8l-1.8 1.8l-1.8 -1.8z M134 119.7l1.8 1.8l-1.8 1.8l-1.8 -1.8z M154 133.7l1.8 1.8l-1.8 1.8l-1.8 -1.8z M174 152.0l1.8 1.8l-1.8 1.8l-1.8 -1.8z M194 157.9l1.8 1.8l-1.8 1.8l-1.8 -1.8z M214 181.7l1.8 1.8l-1.8 1.8l-1.8 -1.8z M234 198.5l1.8 1.8l-1.8 1.8l-1.8 -1.8z M254 196.5l1.8 1.8l-1.8 1.8l-1.8 -1.8z M274 151.5l1.8 1.8l-1.8 1.8l-1.8 -1.8z M294 144.0l1.8 1.8l-1.8 1.8l-1.8 -1.8z M314 139.7l1.8 1.8l-1.8 1.8l-1.8 -1.8z M334 123.2l1.8 1.8l-1.8 1.8l-1.8 -1.8z M354 118.0l1.8 1.8l-1.8 1.8l-1.8 -1.8z M374 116.8l1.8 1.8l-1.8 1.8l-1.8 -1.8z M394 118.6l1.8 1.8l-1.8 1.8l-1.8 -1.8z M414 102.4l1.8 1.8l-1.8 1.8l-1.8 -1.8z M434 106.5l1.8 1.8l-1.8 1.8l-1.8 -1.8z M454 126.2l1.8 1.8l-1.8 1.8l-1.8 -1.8z M474 124.1l1.8 1.8l-1.8 1.8l-1.8 -1.8z M494 146.2l1.8 1.8l-1.8 1.8l-1.8 -1.8z M514 155.0l1.8 1.8l-1.8 1.8l-1.8 -1.8z M534 178.2l1.8 1.8l-1.8 1.8l-1.8 -1.8z M554 199.9l1.8 1.8l-1.8 1.8l-1.8 -1.8z M574 220.2l1.8 1.8l-1.8 1.8l-1.8 -1.8z M594 212.5l1.8 1.8l-1.8 1.8l-1.8 -1.8z M614 204.8l1.8 1.8l-1.8 1.8l-1.8 -1.8z M634 219.5l1.8 1.8l-1.8 1.8l-1.8 -1.8z M654 234.2l1.8 1.8l-1.8 1.8l-1.8 -1.8z M674 230.2l1.8 1.8l-1.8 1.8l-1.8 -1.8z" fill="#e0d0a8"/><polyline points="34,120.3 54,120.3 74,116.6 94,122.4 114,117.1 134,118.8 154,124.0 174,145.1 194,149.2 214,157.0 234,170.3 254,190.7 274,155.0 294,141.8 314,146.7 334,146.7 354,153.5 374,161.0 394,150.0 414,118.9 434,99.9 454,90.2 474,87.0 494,96.0 514,101.1 534,119.9 554,134.4 574,149.4 594,143.9 614,139.8 634,139.0 654,149.3 674,134.0" stroke="#800a0a" stroke-width="1" fill="none"/><path d="M34 118.5l1.8 1.8l-1.8 1.8l-1.8 -1.8z M54 118.5l1.8 1.8l-1.8 1.8l-1.8 -1.8z M74 114.8l1.8 1.8l-1.8 1.8l-1.8 -1.8z M94 120.6l1.8 1.8l-1.8 1.8l-1.8 -1.8z M114 115.3l1.8 1.8l-1.8 1.8l-1.8 -1.8z M134 117.0l1.8 1.8l-1.8 1.8l-1.8 -1.8z M154 122.2l1.8 1.8l-1.8 1.8l-1.8 -1.8z M174 143.3l1.8 1.8l-1.8 1.8l-1.8 -1.8z M194 147.4l1.8 1.8l-1.8 1.8l-1.8 -1.8z M214 155.2l1.8 1.8l-1.8 1.8l-1.8 -1.8z M234 168.5l1.8 1.8l-1.8 1.8l-1.8 -1.8z M254 188.9l1.8 1.8l-1.8 1.8l-1.8 -1.8z M274 153.2l1.8 1.8l-1.8 1.8l-1.8 -1.8z M294 140.0l1.8 1.8l-1.8 1.8l-1.8 -1.8z M314 144.9l1.8 1.8l-1.8 1.8l-1.8 -1.8z M334 144.9l1.8 1.8l-1.8 1.8l-1.8 -1.8z M354 151.7l1.8 1.8l-1.8 1.8l-1.8 -1.8z M374 159.2l1.8 1.8l-1.8 1.8l-1.8 -1.8z M394 148.2l1.8 1.8l-1.8 1.8l-1.8 -1.8z M414 117.1l1.8 1.8l-1.8 1.8l-1.8 -1.8z M434 98.1l1.8 1.8l-1.8 1.8l-1.8 -1.8z M454 88.4l1.8 1.8l-1.8 1.8l-1.8 -1.8z M474 85.2l1.8 1.8l-1.8 1.8l-1.8 -1.8z M494 94.2l1.8 1.8l-1.8 1.8l-1.8 -1.8z M514 99.3l1.8 1.8l-1.8 1.8l-1.8 -1.8z M534 118.1l1.8 1.8l-1.8 1.8l-1.8 -1.8z M554 132.6l1.8 1.8l-1.8 1.8l-1.8 -1.8z M574 147.6l1.8 1.8l-1.8 1.8l-1.8 -1.8z M594 142.1l1.8 1.8l-1.8 1.8l-1.8 -1.8z M614 138.0l1.8 1.8l-1.8 1.8l-1.8 -1.8z M634 137.2l1.8 1.8l-1.8 1.8l-1.8 -1.8z M654 147.5l1.8 1.8l-1.8 1.8l-1.8 -1.8z M674 132.2l1.8 1.8l-1.8 1.8l-1.8 -1.8z" fill="#800a0a"/><polyline points="34,121.0 54,121.6 74,119.5 94,126.5 114,123.4 134,128.0 154,129.6 174,147.8 194,152.8 214,161.6 234,176.2 254,197.4 274,174.7 294,163.8 314,154.7 334,138.0 354,121.1 374,111.7 394,103.6 414,101.0 434,88.0 454,85.4 474,85.2 494,94.9 514,102.9 534,124.4 554,139.1 574,164.6 594,148.9 614,144.6 634,140.7 654,152.1 674,148.0" stroke="#208080" stroke-width="1" fill="none"/><path d="M34 119.2l1.8 1.8l-1.8 1.8l-1.8 -1.8z M54 119.8l1.8 1.8l-1.8 1.8l-1.8 -1.8z M74 117.7l1.8 1.8l-1.8 1.8l-1.8 -1.8z M94 124.7l1.8 1.8l-1.8 1.8l-1.8 -1.8z M114 121.6l1.8 1.8l-1.8 1.8l-1.8 -1.8z M134 126.2l1.8 1.8l-1.8 1.8l-1.8 -1.8z M154 127.8l1.8 1.8l-1.8 1.8l-1.8 -1.8z M174 146.0l1.8 1.8l-1.8 1.8l-1.8 -1.8z M194 151.0l1.8 1.8l-1.8 1.8l-1.8 -1.8z M214 159.8l1.8 1.8l-1.8 1.8l-1.8 -1.8z M234 174.4l1.8 1.8l-1.8 1.8l-1.8 -1.8z M254 195.6l1.8 1.8l-1.8 1.8l-1.8 -1.8z M274 172.9l1.8 1.8l-1.8 1.8l-1.8 -1.8z M294 162.0l1.8 1.8l-1.8 1.8l-1.8 -1.8z M314 152.9l1.8 1.8l-1.8 1.8l-1.8 -1.8z M334 136.2l1.8 1.8l-1.8 1.8l-1.8 -1.8z M354 119.3l1.8 1.8l-1.8 1.8l-1.8 -1.8z M374 109.9l1.8 1.8l-1.8 1.8l-1.8 -1.8z M394 101.8l1.8 1.8l-1.8 1.8l-1.8 -1.8z M414 99.2l1.8 1.8l-1.8 1.8l-1.8 -1.8z M434 86.2l1.8 1.8l-1.8 1.8l-1.8 -1.8z M454 83.6l1.8 1.8l-1.8 1.8l-1.8 -1.8z M474 83.4l1.8 1.8l-1.8 1.8l-1.8 -1.8z M494 93.1l1.8 1.8l-1.8 1.8l-1.8 -1.8z M514 101.1l1.8 1.8l-1.8 1.8l-1.8 -1.8z M534 122.6l1.8 1.8l-1.8 1.8l-1.8 -1.8z M554 137.3l1.8 1.8l-1.8 1.8l-1.8 -1.8z M574 162.8l1.8 1.8l-1.8 1.8l-1.8 -1.8z M594 147.1l1.8 1.8l-1.8 1.8l-1.8 -1.8z M614 142.8l1.8 1.8l-1.8 1.8l-1.8 -1.8z M634 138.9l1.8 1.8l-1.8 1.8l-1.8 -1.8z M654 150.3l1.8 1.8l-1.8 1.8l-1.8 -1.8z M674 146.2l1.8 1.8l-1.8 1.8l-1.8 -1.8z" fill="#208080"/></g>
<polyline points="34,122.0 54,122.5 74,120.0 94,128.0 114,125.0 134,131.0 154,140.0 174,158.6 194,162.5 214,176.0 234,194.0 254,210.0 274,178.0 294,150.0 314,133.0 334,124.0 354,109.5 374,110.5 394,113.0 414,113.5 434,110.0 454,106.0 474,105.0 494,115.0 514,123.0 534,139.5 554,157.0 574,180.0 594,183.0 614,186.4 634,185.4 654,172.4 674,151.0" stroke="#000" stroke-width="3" fill="none" stroke-linejoin="round" shape-rendering="crispEdges"/>
<polyline points="34,121.0 54,121.5 74,119.0 94,126.0 114,123.0 134,128.0 154,137.0 174,161.5 194,165.5 214,174.3 234,192.0 254,209.0 274,176.0 294,146.7 314,132.0 334,122.2 354,113.5 374,116.4 394,117.0 414,117.5 434,112.0 454,104.0 474,98.0 494,111.0 514,120.0 534,128.0 554,141.0 574,157.5 594,157.7 614,162.6 634,167.5 654,169.0 674,162.6" stroke="#0000ff" stroke-width="3" fill="none" stroke-linejoin="round" shape-rendering="crispEdges"/>
<polyline points="34,121.5 54,122.0 74,119.6 94,127.5 114,124.5 134,129.4 154,139.5 174,162.0 194,167.5 214,181.5 234,198.5 254,213.0 274,183.0 294,163.0 314,150.0 334,141.0 354,125.0 374,117.0 394,110.0 414,107.8 434,106.5 454,100.0 474,97.0 494,110.5 514,115.5 534,133.5 554,147.7 574,165.0 594,161.0 614,157.7 634,156.0 654,161.0 674,148.0" stroke="#ff0000" stroke-width="3.3" fill="none" stroke-linejoin="round" shape-rendering="crispEdges"/>
<g shape-rendering="crispEdges"><polyline points="54,459.0 74,459.0 94,459.0 114,459.0 134,459.0 154,459.0 174,459.0 194,459.0 214,459.0 234,456.0 254,445.0 274,454.0 294,459.0 314,459.0 334,459.0 354,459.0 374,459.0 394,459.0 414,459.0 434,459.0 454,459.0 474,459.0 494,459.0 514,459.0 534,459.0 554,459.0 574,459.0 594,459.0 614,459.0 634,459.0 654,459.0 674,459.0" stroke="#e07b39" stroke-width="1" fill="none"/><path d="M234 454.4l1.6 1.6l-1.6 1.6l-1.6 -1.6z M254 443.4l1.6 1.6l-1.6 1.6l-1.6 -1.6z M274 452.4l1.6 1.6l-1.6 1.6l-1.6 -1.6z" fill="#e07b39"/><polyline points="54,459.0 74,459.0 94,459.0 114,459.0 134,459.0 154,459.0 174,459.0 194,459.0 214,459.0 234,459.0 254,459.0 274,458.0 294,456.0 314,440.0 334,456.0 354,459.0 374,459.0 394,459.0 414,459.0 434,459.0 454,459.0 474,459.0 494,459.0 514,459.0 534,459.0 554,459.0 574,459.0 594,459.0 614,459.0 634,459.0 654,459.0 674,459.0" stroke="#80c070" stroke-width="1" fill="none"/><path d="M274 456.4l1.6 1.6l-1.6 1.6l-1.6 -1.6z M294 454.4l1.6 1.6l-1.6 1.6l-1.6 -1.6z M314 438.4l1.6 1.6l-1.6 1.6l-1.6 -1.6z M334 454.4l1.6 1.6l-1.6 1.6l-1.6 -1.6z" fill="#80c070"/><polyline points="54,459.0 74,459.0 94,459.0 114,459.0 134,459.0 154,459.0 174,459.0 194,459.0 214,459.0 234,459.0 254,459.0 274,459.0 294,459.0 314,459.0 334,459.0 354,459.0 374,459.0 394,459.0 414,459.0 434,459.0 454,459.0 474,459.0 494,459.0 514,459.0 534,459.0 554,459.0 574,459.0 594,459.0 614,459.0 634,459.0 654,459.0 674,459.0" stroke="#f0c000" stroke-width="1" fill="none"/><polyline points="54,459.0 74,459.0 94,459.0 114,459.0 134,459.0 154,459.0 174,459.0 194,459.0 214,459.0 234,459.0 254,459.0 274,459.0 294,456.0 314,454.0 334,457.0 354,459.0 374,459.0 394,459.0 414,459.0 434,459.0 454,459.0 474,459.0 494,459.0 514,459.0 534,459.0 554,459.0 574,459.0 594,459.0 614,459.0 634,459.0 654,459.0 674,459.0" stroke="#8e50b0" stroke-width="1" fill="none"/><path d="M294 454.4l1.6 1.6l-1.6 1.6l-1.6 -1.6z M314 452.4l1.6 1.6l-1.6 1.6l-1.6 -1.6z M334 455.4l1.6 1.6l-1.6 1.6l-1.6 -1.6z" fill="#8e50b0"/><polyline points="54,459.0 74,459.0 94,459.0 114,459.0 134,459.0 154,459.0 174,459.0 194,459.0 214,459.0 234,459.0 254,459.0 274,459.0 294,459.0 314,459.0 334,459.0 354,458.0 374,459.0 394,457.0 414,459.0 434,459.0 454,459.0 474,459.0 494,459.0 514,459.0 534,458.0 554,459.0 574,459.0 594,459.0 614,459.0 634,459.0 654,459.0 674,459.0" stroke="#a04a10" stroke-width="1" fill="none"/><path d="M354 456.4l1.6 1.6l-1.6 1.6l-1.6 -1.6z M394 455.4l1.6 1.6l-1.6 1.6l-1.6 -1.6z M534 456.4l1.6 1.6l-1.6 1.6l-1.6 -1.6z" fill="#a04a10"/><polyline points="54,459.0 74,459.0 94,459.0 114,459.0 134,459.0 154,459.0 174,459.0 194,459.0 214,459.0 234,459.0 254,459.0 274,459.0 294,459.0 314,459.0 334,459.0 354,459.0 374,459.0 394,459.0 414,459.0 434,459.0 454,459.0 474,459.0 494,459.0 514,459.0 534,459.0 554,459.0 574,459.0 594,459.0 614,459.0 634,459.0 654,459.0 674,459.0" stroke="#4a7a10" stroke-width="1" fill="none"/><polyline points="54,459.0 74,459.0 94,459.0 114,459.0 134,459.0 154,459.0 174,459.0 194,459.0 214,459.0 234,459.0 254,455.0 274,453.0 294,450.0 314,455.0 334,459.0 354,459.0 374,459.0 394,459.0 414,459.0 434,459.0 454,459.0 474,459.0 494,459.0 514,459.0 534,459.0 554,459.0 574,459.0 594,459.0 614,459.0 634,459.0 654,459.0 674,459.0" stroke="#1080ff" stroke-width="1" fill="none"/><path d="M254 453.4l1.6 1.6l-1.6 1.6l-1.6 -1.6z M274 451.4l1.6 1.6l-1.6 1.6l-1.6 -1.6z M294 448.4l1.6 1.6l-1.6 1.6l-1.6 -1.6z M314 453.4l1.6 1.6l-1.6 1.6l-1.6 -1.6z" fill="#1080ff"/><polyline points="54,459.0 74,459.0 94,459.0 114,459.0 134,459.0 154,459.0 174,459.0 194,459.0 214,459.0 234,459.0 254,459.0 274,459.0 294,459.0 314,459.0 334,459.0 354,459.0 374,459.0 394,459.0 414,459.0 434,459.0 454,459.0 474,459.0 494,459.0 514,459.0 534,459.0 554,459.0 574,459.0 594,459.0 614,459.0 634,459.0 654,459.0 674,459.0" stroke="#e8d4a8" stroke-width="1" fill="none"/><polyline points="54,459.0 74,459.0 94,459.0 114,459.0 134,459.0 154,459.0 174,459.0 194,459.0 214,459.0 234,457.0 254,443.0 274,452.0 294,455.0 314,459.0 334,459.0 354,459.0 374,459.0 394,459.0 414,459.0 434,459.0 454,459.0 474,459.0 494,459.0 514,459.0 534,459.0 554,459.0 574,459.0 594,459.0 614,459.0 634,459.0 654,459.0 674,459.0" stroke="#3a88b8" stroke-width="1" fill="none"/><path d="M234 455.4l1.6 1.6l-1.6 1.6l-1.6 -1.6z M254 441.4l1.6 1.6l-1.6 1.6l-1.6 -1.6z M274 450.4l1.6 1.6l-1.6 1.6l-1.6 -1.6z M294 453.4l1.6 1.6l-1.6 1.6l-1.6 -1.6z" fill="#3a88b8"/><polyline points="54,455.0 74,458.0 94,459.0 114,459.0 134,459.0 154,459.0 174,459.0 194,459.0 214,459.0 234,459.0 254,459.0 274,459.0 294,459.0 314,459.0 334,459.0 354,457.0 374,458.0 394,459.0 414,459.0 434,459.0 454,459.0 474,458.0 494,459.0 514,459.0 534,459.0 554,459.0 574,459.0 594,459.0 614,459.0 634,459.0 654,459.0 674,459.0" stroke="#e0a050" stroke-width="1" fill="none"/><path d="M54 453.4l1.6 1.6l-1.6 1.6l-1.6 -1.6z M74 456.4l1.6 1.6l-1.6 1.6l-1.6 -1.6z M354 455.4l1.6 1.6l-1.6 1.6l-1.6 -1.6z M374 456.4l1.6 1.6l-1.6 1.6l-1.6 -1.6z M474 456.4l1.6 1.6l-1.6 1.6l-1.6 -1.6z" fill="#e0a050"/><polyline points="54,459.0 74,459.0 94,459.0 114,459.0 134,459.0 154,459.0 174,459.0 194,459.0 214,459.0 234,459.0 254,459.0 274,459.0 294,459.0 314,459.0 334,459.0 354,459.0 374,459.0 394,459.0 414,459.0 434,459.0 454,459.0 474,459.0 494,459.0 514,459.0 534,459.0 554,459.0 574,459.0 594,459.0 614,459.0 634,459.0 654,459.0 674,459.0" stroke="#5a4818" stroke-width="1" fill="none"/><polyline points="54,459.0 74,459.0 94,459.0 114,459.0 134,459.0 154,459.0 174,459.0 194,459.0 214,459.0 234,457.0 254,448.0 274,455.0 294,459.0 314,459.0 334,459.0 354,459.0 374,459.0 394,459.0 414,459.0 434,459.0 454,459.0 474,459.0 494,459.0 514,459.0 534,459.0 554,459.0 574,459.0 594,459.0 614,459.0 634,459.0 654,459.0 674,459.0" stroke="#f06020" stroke-width="1" fill="none"/><path d="M234 455.4l1.6 1.6l-1.6 1.6l-1.6 -1.6z M254 446.4l1.6 1.6l-1.6 1.6l-1.6 -1.6z M274 453.4l1.6 1.6l-1.6 1.6l-1.6 -1.6z" fill="#f06020"/><polyline points="54,459.0 74,459.0 94,459.0 114,459.0 134,459.0 154,459.0 174,459.0 194,459.0 214,459.0 234,459.0 254,459.0 274,459.0 294,459.0 314,459.0 334,459.0 354,459.0 374,459.0 394,459.0 414,459.0 434,459.0 454,459.0 474,459.0 494,459.0 514,459.0 534,459.0 554,459.0 574,459.0 594,459.0 614,459.0 634,459.0 654,459.0 674,459.0" stroke="#c8b878" stroke-width="1" fill="none"/><polyline points="54,459.0 74,459.0 94,459.0 114,459.0 134,459.0 154,459.0 174,459.0 194,459.0 214,459.0 234,459.0 254,459.0 274,459.0 294,457.0 314,452.0 334,456.0 354,459.0 374,459.0 394,459.0 414,459.0 434,459.0 454,459.0 474,459.0 494,459.0 514,459.0 534,459.0 554,459.0 574,459.0 594,459.0 614,459.0 634,459.0 654,459.0 674,459.0" stroke="#10d060" stroke-width="1" fill="none"/><path d="M294 455.4l1.6 1.6l-1.6 1.6l-1.6 -1.6z M314 450.4l1.6 1.6l-1.6 1.6l-1.6 -1.6z M334 454.4l1.6 1.6l-1.6 1.6l-1.6 -1.6z" fill="#10d060"/><polyline points="54,459.0 74,459.0 94,459.0 114,459.0 134,459.0 154,459.0 174,459.0 194,459.0 214,459.0 234,459.0 254,459.0 274,459.0 294,459.0 314,459.0 334,459.0 354,459.0 374,459.0 394,459.0 414,459.0 434,459.0 454,459.0 474,459.0 494,459.0 514,459.0 534,459.0 554,459.0 574,459.0 594,459.0 614,459.0 634,459.0 654,459.0 674,459.0" stroke="#1a3a58" stroke-width="1" fill="none"/><polyline points="54,459.0 74,459.0 94,459.0 114,459.0 134,459.0 154,459.0 174,459.0 194,459.0 214,459.0 234,458.0 254,452.0 274,432.6 294,455.0 314,459.0 334,459.0 354,459.0 374,459.0 394,459.0 414,459.0 434,459.0 454,459.0 474,459.0 494,459.0 514,459.0 534,459.0 554,459.0 574,459.0 594,459.0 614,459.0 634,459.0 654,459.0 674,459.0" stroke="#606c78" stroke-width="1" fill="none"/><path d="M234 456.4l1.6 1.6l-1.6 1.6l-1.6 -1.6z M254 450.4l1.6 1.6l-1.6 1.6l-1.6 -1.6z M274 431.0l1.6 1.6l-1.6 1.6l-1.6 -1.6z M294 453.4l1.6 1.6l-1.6 1.6l-1.6 -1.6z" fill="#606c78"/><polyline points="54,452.0 74,457.0 94,459.0 114,459.0 134,459.0 154,459.0 174,459.0 194,459.0 214,459.0 234,459.0 254,459.0 274,459.0 294,459.0 314,459.0 334,459.0 354,459.0 374,459.0 394,459.0 414,459.0 434,459.0 454,459.0 474,459.0 494,459.0 514,459.0 534,459.0 554,459.0 574,459.0 594,459.0 614,459.0 634,459.0 654,459.0 674,459.0" stroke="#e070f0" stroke-width="1" fill="none"/><path d="M54 450.4l1.6 1.6l-1.6 1.6l-1.6 -1.6z M74 455.4l1.6 1.6l-1.6 1.6l-1.6 -1.6z" fill="#e070f0"/><polyline points="54,459.0 74,459.0 94,459.0 114,459.0 134,459.0 154,459.0 174,459.0 194,459.0 214,459.0 234,459.0 254,459.0 274,459.0 294,459.0 314,459.0 334,459.0 354,459.0 374,459.0 394,459.0 414,459.0 434,459.0 454,459.0 474,459.0 494,459.0 514,459.0 534,459.0 554,459.0 574,459.0 594,458.0 614,442.6 634,457.0 654,459.0 674,459.0" stroke="#7010f0" stroke-width="1" fill="none"/><path d="M594 456.4l1.6 1.6l-1.6 1.6l-1.6 -1.6z M614 441.0l1.6 1.6l-1.6 1.6l-1.6 -1.6z M634 455.4l1.6 1.6l-1.6 1.6l-1.6 -1.6z" fill="#7010f0"/><polyline points="54,459.0 74,459.0 94,459.0 114,459.0 134,459.0 154,459.0 174,459.0 194,459.0 214,459.0 234,459.0 254,459.0 274,459.0 294,459.0 314,459.0 334,459.0 354,459.0 374,459.0 394,459.0 414,459.0 434,459.0 454,459.0 474,459.0 494,459.0 514,459.0 534,459.0 554,459.0 574,459.0 594,459.0 614,459.0 634,459.0 654,459.0 674,459.0" stroke="#705028" stroke-width="1" fill="none"/><polyline points="54,459.0 74,459.0 94,459.0 114,459.0 134,459.0 154,459.0 174,459.0 194,459.0 214,459.0 234,459.0 254,458.0 274,451.0 294,446.0 314,451.0 334,458.0 354,459.0 374,459.0 394,459.0 414,459.0 434,459.0 454,459.0 474,459.0 494,459.0 514,459.0 534,459.0 554,459.0 574,459.0 594,459.0 614,459.0 634,459.0 654,459.0 674,459.0" stroke="#280868" stroke-width="1" fill="none"/><path d="M254 456.4l1.6 1.6l-1.6 1.6l-1.6 -1.6z M274 449.4l1.6 1.6l-1.6 1.6l-1.6 -1.6z M294 444.4l1.6 1.6l-1.6 1.6l-1.6 -1.6z M314 449.4l1.6 1.6l-1.6 1.6l-1.6 -1.6z M334 456.4l1.6 1.6l-1.6 1.6l-1.6 -1.6z" fill="#280868"/><polyline points="54,459.0 74,459.0 94,459.0 114,459.0 134,459.0 154,459.0 174,459.0 194,459.0 214,459.0 234,459.0 254,459.0 274,459.0 294,459.0 314,459.0 334,459.0 354,459.0 374,459.0 394,459.0 414,459.0 434,459.0 454,459.0 474,459.0 494,459.0 514,459.0 534,459.0 554,459.0 574,459.0 594,459.0 614,459.0 634,459.0 654,459.0 674,459.0" stroke="#f0d000" stroke-width="1" fill="none"/><polyline points="54,459.0 74,459.0 94,459.0 114,459.0 134,459.0 154,459.0 174,459.0 194,459.0 214,459.0 234,459.0 254,452.0 274,450.0 294,451.0 314,456.0 334,459.0 354,459.0 374,459.0 394,459.0 414,459.0 434,459.0 454,459.0 474,459.0 494,459.0 514,459.0 534,459.0 554,459.0 574,459.0 594,459.0 614,459.0 634,459.0 654,459.0 674,459.0" stroke="#205898" stroke-width="1" fill="none"/><path d="M254 450.4l1.6 1.6l-1.6 1.6l-1.6 -1.6z M274 448.4l1.6 1.6l-1.6 1.6l-1.6 -1.6z M294 449.4l1.6 1.6l-1.6 1.6l-1.6 -1.6z M314 454.4l1.6 1.6l-1.6 1.6l-1.6 -1.6z" fill="#205898"/><polyline points="54,459.0 74,459.0 94,459.0 114,459.0 134,459.0 154,459.0 174,459.0 194,459.0 214,459.0 234,459.0 254,459.0 274,459.0 294,459.0 314,459.0 334,459.0 354,459.0 374,459.0 394,459.0 414,459.0 434,459.0 454,459.0 474,459.0 494,457.0 514,458.0 534,459.0 554,459.0 574,459.0 594,459.0 614,459.0 634,459.0 654,459.0 674,459.0" stroke="#8a4a18" stroke-width="1" fill="none"/><path d="M494 455.4l1.6 1.6l-1.6 1.6l-1.6 -1.6z M514 456.4l1.6 1.6l-1.6 1.6l-1.6 -1.6z" fill="#8a4a18"/><polyline points="54,459.0 74,459.0 94,459.0 114,459.0 134,459.0 154,459.0 174,459.0 194,459.0 214,458.0 234,450.0 254,450.0 274,456.0 294,459.0 314,459.0 334,459.0 354,459.0 374,459.0 394,459.0 414,459.0 434,459.0 454,459.0 474,459.0 494,459.0 514,459.0 534,459.0 554,459.0 574,459.0 594,459.0 614,459.0 634,459.0 654,459.0 674,459.0" stroke="#9080e8" stroke-width="1" fill="none"/><path d="M214 456.4l1.6 1.6l-1.6 1.6l-1.6 -1.6z M234 448.4l1.6 1.6l-1.6 1.6l-1.6 -1.6z M254 448.4l1.6 1.6l-1.6 1.6l-1.6 -1.6z M274 454.4l1.6 1.6l-1.6 1.6l-1.6 -1.6z" fill="#9080e8"/><polyline points="54,459.0 74,459.0 94,459.0 114,459.0 134,459.0 154,459.0 174,459.0 194,459.0 214,459.0 234,459.0 254,459.0 274,459.0 294,459.0 314,459.0 334,459.0 354,459.0 374,459.0 394,459.0 414,459.0 434,459.0 454,459.0 474,459.0 494,459.0 514,459.0 534,459.0 554,459.0 574,459.0 594,459.0 614,459.0 634,459.0 654,459.0 674,459.0" stroke="#90f040" stroke-width="1" fill="none"/><polyline points="54,459.0 74,459.0 94,459.0 114,459.0 134,459.0 154,459.0 174,459.0 194,459.0 214,459.0 234,459.0 254,459.0 274,459.0 294,459.0 314,459.0 334,459.0 354,459.0 374,459.0 394,459.0 414,459.0 434,459.0 454,459.0 474,459.0 494,459.0 514,459.0 534,459.0 554,459.0 574,459.0 594,459.0 614,459.0 634,456.0 654,453.0 674,459.0" stroke="#d878d0" stroke-width="1" fill="none"/><path d="M634 454.4l1.6 1.6l-1.6 1.6l-1.6 -1.6z M654 451.4l1.6 1.6l-1.6 1.6l-1.6 -1.6z" fill="#d878d0"/><polyline points="54,459.0 74,459.0 94,459.0 114,459.0 134,459.0 154,459.0 174,459.0 194,459.0 214,459.0 234,459.0 254,459.0 274,459.0 294,459.0 314,459.0 334,459.0 354,459.0 374,459.0 394,459.0 414,459.0 434,459.0 454,459.0 474,459.0 494,459.0 514,459.0 534,459.0 554,459.0 574,459.0 594,459.0 614,459.0 634,455.0 654,452.0 674,458.0" stroke="#1a0aa0" stroke-width="1" fill="none"/><path d="M634 453.4l1.6 1.6l-1.6 1.6l-1.6 -1.6z M654 450.4l1.6 1.6l-1.6 1.6l-1.6 -1.6z M674 456.4l1.6 1.6l-1.6 1.6l-1.6 -1.6z" fill="#1a0aa0"/><polyline points="54,459.0 74,459.0 94,459.0 114,459.0 134,459.0 154,459.0 174,459.0 194,459.0 214,459.0 234,459.0 254,459.0 274,459.0 294,459.0 314,459.0 334,459.0 354,459.0 374,459.0 394,459.0 414,459.0 434,459.0 454,459.0 474,459.0 494,459.0 514,459.0 534,459.0 554,459.0 574,459.0 594,459.0 614,459.0 634,459.0 654,459.0 674,459.0" stroke="#e0d0a8" stroke-width="1" fill="none"/><polyline points="54,459.0 74,459.0 94,459.0 114,459.0 134,459.0 154,459.0 174,459.0 194,459.0 214,459.0 234,457.0 254,438.6 274,455.0 294,459.0 314,459.0 334,459.0 354,459.0 374,459.0 394,459.0 414,459.0 434,459.0 454,459.0 474,459.0 494,459.0 514,459.0 534,459.0 554,459.0 574,459.0 594,459.0 614,459.0 634,459.0 654,459.0 674,459.0" stroke="#800a0a" stroke-width="1" fill="none"/><path d="M234 455.4l1.6 1.6l-1.6 1.6l-1.6 -1.6z M254 437.0l1.6 1.6l-1.6 1.6l-1.6 -1.6z M274 453.4l1.6 1.6l-1.6 1.6l-1.6 -1.6z" fill="#800a0a"/><polyline points="54,459.0 74,459.0 94,459.0 114,459.0 134,459.0 154,459.0 174,459.0 194,459.0 214,459.0 234,459.0 254,459.0 274,459.0 294,459.0 314,459.0 334,459.0 354,459.0 374,459.0 394,459.0 414,459.0 434,459.0 454,459.0 474,459.0 494,459.0 514,459.0 534,459.0 554,459.0 574,459.0 594,459.0 614,459.0 634,459.0 654,459.0 674,459.0" stroke="#208080" stroke-width="1" fill="none"/></g>
<polyline points="54,459 234,459 254,457 274,453 294,454 314,456 334,459 674,459" stroke="#000" stroke-width="2" fill="none"/>
<polyline points="54,460.5 104,460.5 104,459.5 234,459.5 254,455 274,450 294,450.5 314,453 334,457 354,459.5 674,459.5" stroke="#0000ff" stroke-width="2" fill="none"/>
<polyline points="54,458.5 104,458.5 104,459.5 234,459.5 254,458.5 274,458 294,458 314,459 334,459.5 524,459.5 544,460 674,459.5" stroke="#ff0000" stroke-width="3" fill="none" shape-rendering="crispEdges"/>
<rect x="51" y="13" width="594" height="29" fill="#000"/>
<text x="54" y="34" font-family="Liberation Sans, sans-serif" font-size="23" fill="#fff" textLength="587" lengthAdjust="spacingAndGlyphs">Évolution de la pression à Paris du 26 mars au 3 avril 2025</text>
<path d="M95.5 97.3 C167 106.2 189 121.4 237 159" stroke="#000" stroke-width="4.8" fill="none" stroke-linecap="round"/>
<path d="M250.5 170.5 L242.4 149.8 L230 164.8 Z" fill="#000"/>
<path d="M260.6 167.4 C278.2 142.4 302.1 88.4 427 61.5" stroke="#000" stroke-width="5.4" fill="none" stroke-linecap="round"/>
<path d="M446.3 58.6 L424.3 52.6 L428.5 72.4 Z" fill="#000"/>
<circle cx="256" cy="213.5" r="23.3" fill="#e0101a"/>
<text transform="translate(257.6 226) scale(0.93 1)" font-family="Liberation Sans, sans-serif" font-size="35" font-weight="bold" fill="#fff" text-anchor="middle">D</text>
<circle cx="447" cy="109.8" r="30" fill="#0c4a98"/>
<text x="447" y="126" font-family="Liberation Sans, sans-serif" font-size="46" font-weight="bold" fill="#fff" text-anchor="middle">A</text>
<rect x="44" y="167" width="90" height="45" fill="#ff5c00"/>
<rect x="45" y="212" width="90" height="21" fill="#000"/>
<g font-family="Liberation Sans, sans-serif" fill="#fff" stroke="#fff" stroke-width="0.35" text-anchor="middle"><text x="88" y="184.6" font-size="19.5">hautes</text><text x="89" y="204.8" font-size="19.5">pressions</text><text x="90" y="227" font-size="15">actuellement</text></g>
<rect x="406" y="162" width="90" height="45" fill="#ff5c00"/>
<rect x="402" y="207" width="98" height="36.6" fill="#000"/>
<g font-family="Liberation Sans, sans-serif" fill="#fff" stroke="#fff" stroke-width="0.35" text-anchor="middle"><text x="450" y="179.6" font-size="19.5">hautes</text><text x="451" y="199.2" font-size="19.5">pressions</text><text x="450.5" y="221.8" font-size="15">toute fin mars</text><text x="452" y="236.8" font-size="15">et début avril</text></g>
<rect x="193" y="265" width="124" height="45" fill="#2050a0"/>
<rect x="213" y="310" width="89" height="35" fill="#000"/>
<g font-family="Liberation Sans, sans-serif" fill="#fff" stroke="#fff" stroke-width="0.35" text-anchor="middle"><text x="253" y="282.8" font-size="19.8">talweg et</text><text x="255.3" y="302.8" font-size="19.8">front pluvieux</text><text x="254" y="323.5" font-size="15">vendredi 28</text><text x="256.5" y="338.5" font-size="15">&amp; samedi 29</text></g>
<g transform="translate(0.0 0.0)"><circle cx="88.8" cy="262.8" r="11.6" fill="#ffd000"/><path d="M88.80 245.80L88.80 239.80 M98.79 249.05L102.32 244.19 M78.81 249.05L75.28 244.19 M105.14 258.11L110.91 256.46 M104.45 269.44L109.97 271.79 M72.54 257.83L66.80 256.08" stroke="#ffd000" stroke-width="3.4" stroke-linecap="round" fill="none"/><circle cx="64.40" cy="273.50" r="10.00" fill="#a8a8a8" stroke="#a8a8a8" stroke-width="2.0"/><circle cx="79.00" cy="269.00" r="14.60" fill="#a8a8a8" stroke="#a8a8a8" stroke-width="2.0"/><circle cx="95.00" cy="273.00" r="9.00" fill="#a8a8a8" stroke="#a8a8a8" stroke-width="2.0"/><circle cx="64.40" cy="273.50" r="10.00" fill="#fafafa"/><circle cx="79.00" cy="269.00" r="14.60" fill="#fafafa"/><circle cx="95.00" cy="273.00" r="9.00" fill="#fafafa"/><rect x="64.4" y="272" width="30.6" height="11.5" fill="#fafafa"/><circle cx="73.60" cy="281.00" r="9.50" fill="#aabfd0"/><circle cx="88.40" cy="276.50" r="14.30" fill="#aabfd0"/><circle cx="103.00" cy="280.00" r="10.50" fill="#aabfd0"/><circle cx="88.00" cy="283.00" r="10.70" fill="#aabfd0"/></g>
<g transform="translate(164.0 112.8)"><circle cx="88.8" cy="262.8" r="11.6" fill="#ffd000"/><path d="M88.80 245.80L88.80 239.80 M98.79 249.05L102.32 244.19 M78.81 249.05L75.28 244.19 M105.14 258.11L110.91 256.46 M104.45 269.44L109.97 271.79 M72.54 257.83L66.80 256.08" stroke="#ffd000" stroke-width="3.4" stroke-linecap="round" fill="none"/><circle cx="64.40" cy="273.50" r="10.00" fill="#a8a8a8" stroke="#a8a8a8" stroke-width="2.0"/><circle cx="79.00" cy="269.00" r="14.60" fill="#a8a8a8" stroke="#a8a8a8" stroke-width="2.0"/><circle cx="95.00" cy="273.00" r="9.00" fill="#a8a8a8" stroke="#a8a8a8" stroke-width="2.0"/><circle cx="64.40" cy="273.50" r="10.00" fill="#fafafa"/><circle cx="79.00" cy="269.00" r="14.60" fill="#fafafa"/><circle cx="95.00" cy="273.00" r="9.00" fill="#fafafa"/><rect x="64.4" y="272" width="30.6" height="11.5" fill="#fafafa"/><circle cx="73.60" cy="281.00" r="9.50" fill="#3f4b59"/><circle cx="88.40" cy="276.50" r="14.30" fill="#3f4b59"/><circle cx="103.00" cy="280.00" r="10.50" fill="#3f4b59"/><circle cx="88.00" cy="283.00" r="10.70" fill="#3f4b59"/></g>
<path d="M251.7 388 C250 391.5 246 395.5 246 399.2 C246 402.5 248.6 405 251.8 405 C255 405 257.7 402.5 257.7 399.2 C257.7 395.5 253.6 391.5 251.7 388 Z" fill="#d8e6f4" stroke="#7aa0d8" stroke-width="0.7"/>
<circle cx="450" cy="274.8" r="12" fill="#ffd000"/>
<path d="M450.00 257.80L450.00 251.80 M439.89 261.13L436.32 256.31 M460.11 261.13L463.68 256.31 M433.78 269.72L428.05 267.92 M466.22 269.72L471.95 267.92 M433.78 279.88L428.05 281.68 M466.22 279.88L471.95 281.68 M460.14 288.45L463.71 293.26" stroke="#ffd000" stroke-width="3.4" stroke-linecap="round" fill="none"/>
<circle cx="432.50" cy="296.50" r="7.00" fill="#a8a8a8" stroke="#a8a8a8" stroke-width="2.0"/><circle cx="443.50" cy="293.00" r="9.20" fill="#a8a8a8" stroke="#a8a8a8" stroke-width="2.0"/><circle cx="455.00" cy="296.00" r="8.00" fill="#a8a8a8" stroke="#a8a8a8" stroke-width="2.0"/><circle cx="444.00" cy="296.50" r="9.20" fill="#a8a8a8" stroke="#a8a8a8" stroke-width="2.0"/><circle cx="432.50" cy="296.50" r="7.00" fill="#fafafa"/><circle cx="443.50" cy="293.00" r="9.20" fill="#fafafa"/><circle cx="455.00" cy="296.00" r="8.00" fill="#fafafa"/><circle cx="444.00" cy="296.50" r="9.20" fill="#fafafa"/>
<rect x="33" y="214" width="2" height="2" fill="#000"/>
<g font-family="Liberation Sans, sans-serif" font-size="11" fill="#000"><text transform="translate(45 545.5) rotate(-90)" textLength="29.5" lengthAdjust="spacingAndGlyphs">26/03</text><text transform="translate(125 545.5) rotate(-90)" textLength="29.5" lengthAdjust="spacingAndGlyphs">27/03</text><text transform="translate(205 545.5) rotate(-90)" textLength="29.5" lengthAdjust="spacingAndGlyphs">28/03</text><text transform="translate(285 545.5) rotate(-90)" textLength="29.5" lengthAdjust="spacingAndGlyphs">29/03</text><text transform="translate(365 545.5) rotate(-90)" textLength="29.5" lengthAdjust="spacingAndGlyphs">30/03</text><text transform="translate(445 545.5) rotate(-90)" textLength="29.5" lengthAdjust="spacingAndGlyphs">31/03</text><text transform="translate(525 545.5) rotate(-90)" textLength="29.5" lengthAdjust="spacingAndGlyphs">01/04</text><text transform="translate(605 545.5) rotate(-90)" textLength="29.5" lengthAdjust="spacingAndGlyphs">02/04</text><text transform="translate(685 545.5) rotate(-90)" textLength="29.5" lengthAdjust="spacingAndGlyphs">03/04</text></g>
<rect x="19" y="559" width="31" height="4" fill="#ff0000"/>
<rect x="209" y="549" width="31" height="4" fill="#0000ff"/>
<rect x="209" y="559" width="31" height="4" fill="#000"/>
<g font-family="Liberation Mono, monospace" font-size="11.5" letter-spacing="-0.9" fill="#000"><text x="59" y="565">Moyenne des scénarios</text><text x="249" y="555">Run de contrôle</text><text x="249" y="564">Run GFS</text><text x="323" y="569">30 Perts.</text><text x="163" y="578">Altitude du modele : 90m</text></g>
<g font-family="Liberation Sans, sans-serif" font-size="9" font-weight="bold" fill="#000"><rect x="384" y="564" width="10" height="6" fill="#e07b39"/><text x="384.3" y="560.9" textLength="8.8" lengthAdjust="spacingAndGlyphs">01</text><rect x="395" y="564" width="10" height="6" fill="#80c070"/><text x="395.3" y="560.9" textLength="8.8" lengthAdjust="spacingAndGlyphs">02</text><rect x="406" y="564" width="10" height="6" fill="#f0c000"/><text x="406.3" y="560.9" textLength="8.8" lengthAdjust="spacingAndGlyphs">03</text><rect x="417" y="564" width="10" height="6" fill="#8e50b0"/><text x="417.3" y="560.9" textLength="8.8" lengthAdjust="spacingAndGlyphs">04</text><rect x="428" y="564" width="10" height="6" fill="#a04a10"/><text x="428.3" y="560.9" textLength="8.8" lengthAdjust="spacingAndGlyphs">05</text><rect x="439" y="564" width="10" height="6" fill="#4a7a10"/><text x="439.3" y="560.9" textLength="8.8" lengthAdjust="spacingAndGlyphs">06</text><rect x="450" y="564" width="10" height="6" fill="#1080ff"/><text x="450.3" y="560.9" textLength="8.8" lengthAdjust="spacingAndGlyphs">07</text><rect x="461" y="564" width="10" height="6" fill="#e8d4a8"/><text x="461.3" y="560.9" textLength="8.8" lengthAdjust="spacingAndGlyphs">08</text><rect x="472" y="564" width="10" height="6" fill="#3a88b8"/><text x="472.3" y="560.9" textLength="8.8" lengthAdjust="spacingAndGlyphs">09</text><rect x="483" y="564" width="10" height="6" fill="#e0a050"/><text x="483.3" y="560.9" textLength="8.8" lengthAdjust="spacingAndGlyphs">10</text><rect x="494" y="564" width="10" height="6" fill="#5a4818"/><text x="494.3" y="560.9" textLength="8.8" lengthAdjust="spacingAndGlyphs">11</text><rect x="505" y="564" width="10" height="6" fill="#f06020"/><text x="505.3" y="560.9" textLength="8.8" lengthAdjust="spacingAndGlyphs">12</text><rect x="516" y="564" width="10" height="6" fill="#c8b878"/><text x="516.3" y="560.9" textLength="8.8" lengthAdjust="spacingAndGlyphs">13</text><rect x="527" y="564" width="10" height="6" fill="#10d060"/><text x="527.3" y="560.9" textLength="8.8" lengthAdjust="spacingAndGlyphs">14</text><rect x="538" y="564" width="10" height="6" fill="#1a3a58"/><text x="538.3" y="560.9" textLength="8.8" lengthAdjust="spacingAndGlyphs">15</text><rect x="549" y="564" width="10" height="6" fill="#606c78"/><text x="549.3" y="560.9" textLength="8.8" lengthAdjust="spacingAndGlyphs">16</text><rect x="560" y="564" width="10" height="6" fill="#e070f0"/><text x="560.3" y="560.9" textLength="8.8" lengthAdjust="spacingAndGlyphs">17</text><rect x="571" y="564" width="10" height="6" fill="#7010f0"/><text x="571.3" y="560.9" textLength="8.8" lengthAdjust="spacingAndGlyphs">18</text><rect x="582" y="564" width="10" height="6" fill="#705028"/><text x="582.3" y="560.9" textLength="8.8" lengthAdjust="spacingAndGlyphs">19</text><rect x="593" y="564" width="10" height="6" fill="#280868"/><text x="593.3" y="560.9" textLength="8.8" lengthAdjust="spacingAndGlyphs">20</text><rect x="604" y="564" width="10" height="6" fill="#f0d000"/><text x="604.3" y="560.9" textLength="8.8" lengthAdjust="spacingAndGlyphs">21</text><rect x="615" y="564" width="10" height="6" fill="#205898"/><text x="615.3" y="560.9" textLength="8.8" lengthAdjust="spacingAndGlyphs">22</text><rect x="626" y="564" width="10" height="6" fill="#8a4a18"/><text x="626.3" y="560.9" textLength="8.8" lengthAdjust="spacingAndGlyphs">23</text><rect x="637" y="564" width="10" height="6" fill="#9080e8"/><text x="637.3" y="560.9" textLength="8.8" lengthAdjust="spacingAndGlyphs">24</text><rect x="648" y="564" width="10" height="6" fill="#90f040"/><text x="648.3" y="560.9" textLength="8.8" lengthAdjust="spacingAndGlyphs">25</text><rect x="659" y="564" width="10" height="6" fill="#d878d0"/><text x="659.3" y="560.9" textLength="8.8" lengthAdjust="spacingAndGlyphs">26</text><rect x="670" y="564" width="10" height="6" fill="#1a0aa0"/><text x="670.3" y="560.9" textLength="8.8" lengthAdjust="spacingAndGlyphs">27</text><rect x="681" y="564" width="10" height="6" fill="#e0d0a8"/><text x="681.3" y="560.9" textLength="8.8" lengthAdjust="spacingAndGlyphs">28</text><rect x="692" y="564" width="10" height="6" fill="#800a0a"/><text x="692.3" y="560.9" textLength="8.8" lengthAdjust="spacingAndGlyphs">29</text></g>
<rect x="4.5" y="581.5" width="420" height="31" fill="none" stroke="#000" stroke-width="1"/>
<text x="14" y="594.5" font-family="Liberation Mono, monospace" font-size="12" font-weight="bold" letter-spacing="-0.2" fill="#000">Diagramme des ensembles GEFS sur 192h pour Paris</text>
<text x="14" y="609.5" font-family="Liberation Mono, monospace" font-size="11.5" letter-spacing="-0.9" fill="#000">Pression au niveau de la mer (hPa) , précipitations (mm)</text>
<text x="434" y="590" font-family="Liberation Mono, monospace" font-size="11.5" letter-spacing="-0.9" fill="#000">Ensemble GEFS du 26/03/2025 - 00Z</text>
<text x="434" y="610" font-family="Liberation Mono, monospace" font-size="12" font-weight="bold" letter-spacing="-0.2" fill="#000">Copyright 2025 Meteociel.fr</text>
</svg></body></html>
